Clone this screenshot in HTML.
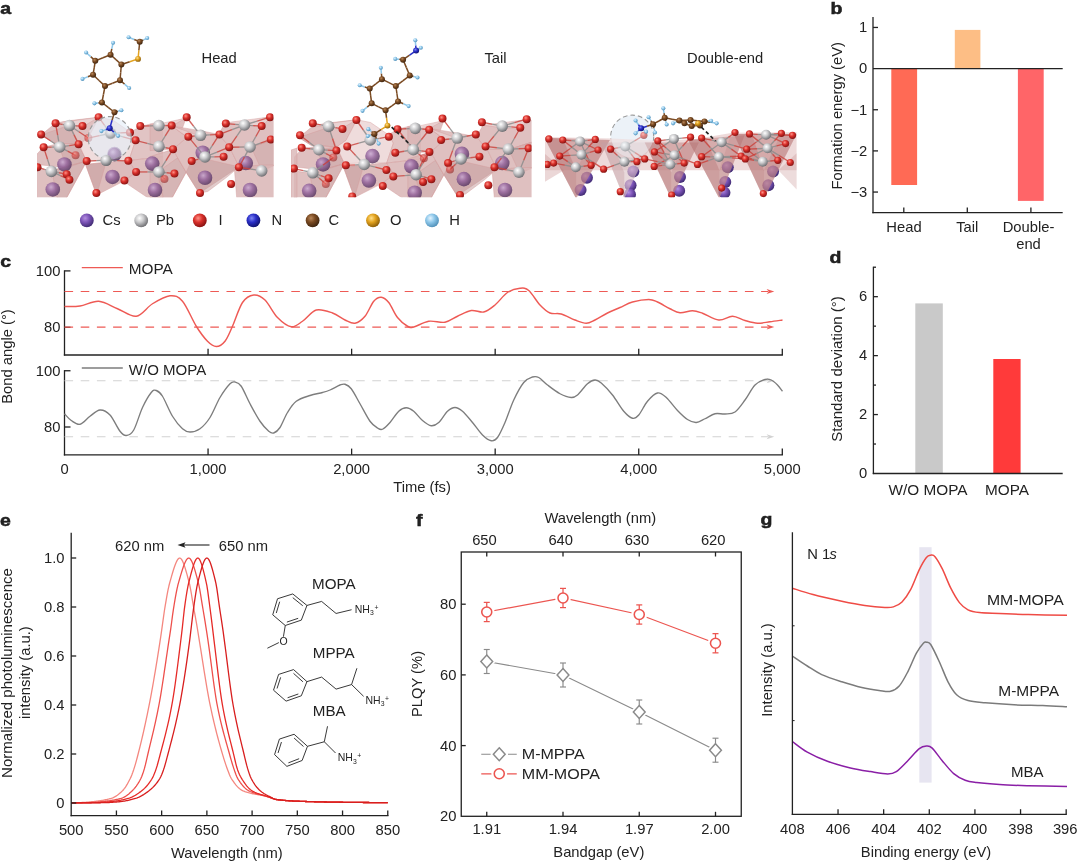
<!DOCTYPE html>
<html><head><meta charset="utf-8"><title>Figure</title>
<style>html,body{margin:0;padding:0;background:#fff;}svg{display:block;will-change:transform;}text{font-family:"Liberation Sans",sans-serif;fill:#222222;}</style></head><body>
<svg width="1080" height="861" viewBox="0 0 1080 861">
<rect width="1080" height="861" fill="#ffffff"/>
<defs>
<radialGradient id="gI" cx="0.38" cy="0.34" r="0.68"><stop offset="0" stop-color="#ff9186"/><stop offset="0.45" stop-color="#d9302b"/><stop offset="1" stop-color="#861211"/></radialGradient>
<radialGradient id="gPb" cx="0.38" cy="0.34" r="0.68"><stop offset="0" stop-color="#ffffff"/><stop offset="0.45" stop-color="#c9c9cb"/><stop offset="1" stop-color="#6e6e72"/></radialGradient>
<radialGradient id="gCs" cx="0.38" cy="0.34" r="0.68"><stop offset="0" stop-color="#c7a6d2"/><stop offset="0.45" stop-color="#8f5e9a"/><stop offset="1" stop-color="#4f2f5c"/></radialGradient>
<radialGradient id="gC" cx="0.38" cy="0.34" r="0.68"><stop offset="0" stop-color="#b8875a"/><stop offset="0.45" stop-color="#7a4a22"/><stop offset="1" stop-color="#3d240f"/></radialGradient>
<radialGradient id="gH" cx="0.38" cy="0.34" r="0.68"><stop offset="0" stop-color="#e4f4ff"/><stop offset="0.45" stop-color="#8fc8ea"/><stop offset="1" stop-color="#4f8fb8"/></radialGradient>
<radialGradient id="gN" cx="0.38" cy="0.34" r="0.68"><stop offset="0" stop-color="#7f86f2"/><stop offset="0.45" stop-color="#2a2fc8"/><stop offset="1" stop-color="#10126e"/></radialGradient>
<radialGradient id="gO" cx="0.38" cy="0.34" r="0.68"><stop offset="0" stop-color="#ffe08a"/><stop offset="0.45" stop-color="#e2a21e"/><stop offset="1" stop-color="#8a5c08"/></radialGradient>
<radialGradient id="gCsL" cx="0.38" cy="0.34" r="0.68"><stop offset="0" stop-color="#b48fe0"/><stop offset="0.45" stop-color="#7d55b8"/><stop offset="1" stop-color="#3f2a72"/></radialGradient>
</defs>
<clipPath id="cl1"><rect x="37" y="100" width="236.5" height="97.3"/></clipPath>
<g clip-path="url(#cl1)">
<path d="M41.11 135L55.56 123.11L70 120.56L98.89 117.22L95.56 124.44L88.33 137.78L78.89 144.44L53.33 142.78Z" fill="#d9b5b5" fill-opacity="0.85" stroke="#d39a9a" stroke-width="0.6" stroke-opacity="0.7"/>
<path d="M55.56 123.11L98.89 117.22L82.78 126.67L70 125Z" fill="#ecd6d6" fill-opacity="0.8" stroke="#d39a9a" stroke-width="0.6" stroke-opacity="0.7"/>
<path d="M41.11 135L70 125L78.89 144.44L53.33 142.78Z" fill="#c49a9a" fill-opacity="0.35" stroke="#d39a9a" stroke-width="0.6" stroke-opacity="0.7"/>
<path d="M36.67 154.44L43.33 147.22L59.44 143.33L78.89 144.44L86.67 161.11L66.67 167.78L36.67 164.44Z" fill="#d9b5b5" fill-opacity="0.85" stroke="#d39a9a" stroke-width="0.6" stroke-opacity="0.7"/>
<path d="M59.44 147.22L78.89 144.44L86.67 161.11L66.67 167.78Z" fill="#c49a9a" fill-opacity="0.4" stroke="#d39a9a" stroke-width="0.6" stroke-opacity="0.7"/>
<path d="M36.67 168.33L51.67 170.56L86.67 161.11L82.78 168.33L66.67 197.78L36.67 197.78Z" fill="#d9b5b5" fill-opacity="0.85" stroke="#d39a9a" stroke-width="0.6" stroke-opacity="0.7"/>
<path d="M51.67 170.56L86.67 161.11L82.78 168.33L66.67 197.78L57.22 197.78Z" fill="#c49a9a" fill-opacity="0.3" stroke="#d39a9a" stroke-width="0.6" stroke-opacity="0.7"/>
<path d="M78.89 144.44L88.33 137.78L98.89 117.22L112.78 120L130.56 132.22L135.56 140.56L128.89 160.56L106.11 160.56L86.67 161.11Z" fill="#ecd6d6" fill-opacity="0.85" stroke="#d39a9a" stroke-width="0.6" stroke-opacity="0.7"/>
<path d="M85.56 164.44L106.11 162.22L128.89 160.56L136.11 172.22L123.89 181.11L96.67 195Z" fill="#d9b5b5" fill-opacity="0.9" stroke="#d39a9a" stroke-width="0.6" stroke-opacity="0.7"/>
<path d="M85.56 164.44L106.11 162.22L96.67 195Z" fill="#c49a9a" fill-opacity="0.45" stroke="#d39a9a" stroke-width="0.6" stroke-opacity="0.7"/>
<path d="M130.56 132.22L140 126.67L155 122.78L162.78 124.44L162.78 156.67L128.89 160.56L135.56 140.56Z" fill="#d9b5b5" fill-opacity="0.8" stroke="#d39a9a" stroke-width="0.6" stroke-opacity="0.7"/>
<path d="M128.89 160.56L162.78 156.67L162.78 197.78L147.78 197.78L128.89 185L123.89 181.11L136.11 172.22Z" fill="#d9b5b5" fill-opacity="0.85" stroke="#d39a9a" stroke-width="0.6" stroke-opacity="0.7"/>
<path d="M150 156.57L172.87 149.35L177.68 157.78L186.11 172.22L172.27 197.5L150 197.5Z" fill="#d9b5b5" fill-opacity="0.85" stroke="#d39a9a" stroke-width="0.6" stroke-opacity="0.7"/>
<path d="M157.22 172.22L177.68 157.78L186.11 172.22L172.27 197.5L163.24 197.5Z" fill="#c49a9a" fill-opacity="0.3" stroke="#d39a9a" stroke-width="0.6" stroke-opacity="0.7"/>
<path d="M150 124.07L159.03 125.88L186.11 118.05L181.3 131.3L187.31 137.31L172.87 149.35L150 150.55Z" fill="#d9b5b5" fill-opacity="0.85" stroke="#d39a9a" stroke-width="0.6" stroke-opacity="0.7"/>
<path d="M150 125.88L186.11 118.05L171.67 125.88Z" fill="#ecd6d6" fill-opacity="0.8" stroke="#d39a9a" stroke-width="0.6" stroke-opacity="0.7"/>
<path d="M171.67 125.88L200.55 130.69L218.61 134.3L229.44 146.94L239.07 166.8L199.35 193.28L186.11 172.22L177.68 157.78L172.87 149.35L187.31 137.31Z" fill="#d9b5b5" fill-opacity="0.85" stroke="#d39a9a" stroke-width="0.6" stroke-opacity="0.7"/>
<path d="M171.67 125.88L200.55 136.11L187.31 137.31Z" fill="#ecd6d6" fill-opacity="0.6" stroke="#d39a9a" stroke-width="0.6" stroke-opacity="0.7"/>
<path d="M191.53 160.78L205.37 158.98L239.07 166.8L227.03 177.03L207.78 191.48L199.35 193.28L186.11 172.22Z" fill="#c49a9a" fill-opacity="0.5" stroke="#d39a9a" stroke-width="0.6" stroke-opacity="0.7"/>
<path d="M218.61 134.3L225.23 122.87L244.49 121.67L270.37 116.85L273.98 118.05L273.98 139.72L251.11 146.94L229.44 146.94Z" fill="#d9b5b5" fill-opacity="0.85" stroke="#d39a9a" stroke-width="0.6" stroke-opacity="0.7"/>
<path d="M225.23 122.87L270.37 116.85L262.54 126.48L244.49 125.28Z" fill="#ecd6d6" fill-opacity="0.8" stroke="#d39a9a" stroke-width="0.6" stroke-opacity="0.7"/>
<path d="M229.44 146.94L251.11 146.94L273.98 139.72L273.98 165.6L261.94 171.02L239.07 166.8Z" fill="#d9b5b5" fill-opacity="0.85" stroke="#d39a9a" stroke-width="0.6" stroke-opacity="0.7"/>
<path d="M251.11 146.94L273.98 139.72L273.98 165.6L261.94 171.02Z" fill="#c49a9a" fill-opacity="0.35" stroke="#d39a9a" stroke-width="0.6" stroke-opacity="0.7"/>
<path d="M234.26 167.4L261.94 165L273.98 165L273.98 197.5L236.66 197.5Z" fill="#d9b5b5" fill-opacity="0.85" stroke="#d39a9a" stroke-width="0.6" stroke-opacity="0.7"/>
<circle cx="64.44" cy="164.44" r="7.3" fill="url(#gCs)" opacity="0.8"/>
<circle cx="52.78" cy="189.44" r="7.3" fill="url(#gCs)" opacity="0.8"/>
<circle cx="114.44" cy="154.17" r="7.3" fill="url(#gCs)" opacity="0.8"/>
<circle cx="112.5" cy="176.94" r="7.3" fill="url(#gCs)" opacity="0.8"/>
<circle cx="152.22" cy="163.61" r="7.3" fill="url(#gCs)" opacity="0.8"/>
<circle cx="155" cy="190" r="7.3" fill="url(#gCs)" opacity="0.8"/>
<circle cx="202.78" cy="152.78" r="7.3" fill="url(#gCs)" opacity="0.8"/>
<circle cx="205" cy="177.78" r="7.3" fill="url(#gCs)" opacity="0.8"/>
<circle cx="245.83" cy="163.06" r="7.3" fill="url(#gCs)" opacity="0.8"/>
<circle cx="250" cy="190" r="7.3" fill="url(#gCs)" opacity="0.8"/>
<line x1="69.44" y1="125.56" x2="62.5" y2="124.44" stroke="#8d8d8d" stroke-width="1.35" opacity="0.85"/>
<line x1="62.5" y1="124.44" x2="55.56" y2="123.33" stroke="#c9403a" stroke-width="1.35" opacity="0.8"/>
<line x1="69.44" y1="125.56" x2="75.97" y2="125.83" stroke="#8d8d8d" stroke-width="1.35" opacity="0.85"/>
<line x1="75.97" y1="125.83" x2="82.5" y2="126.11" stroke="#c9403a" stroke-width="1.35" opacity="0.8"/>
<line x1="69.44" y1="125.56" x2="74.03" y2="134.86" stroke="#8d8d8d" stroke-width="1.35" opacity="0.85"/>
<line x1="74.03" y1="134.86" x2="78.61" y2="144.17" stroke="#c9403a" stroke-width="1.35" opacity="0.8"/>
<line x1="69.44" y1="125.56" x2="78.89" y2="131.81" stroke="#8d8d8d" stroke-width="1.35" opacity="0.85"/>
<line x1="78.89" y1="131.81" x2="88.33" y2="138.06" stroke="#c9403a" stroke-width="1.35" opacity="0.8"/>
<line x1="59.72" y1="146.94" x2="50.42" y2="140.69" stroke="#8d8d8d" stroke-width="1.35" opacity="0.85"/>
<line x1="50.42" y1="140.69" x2="41.11" y2="134.44" stroke="#c9403a" stroke-width="1.35" opacity="0.8"/>
<line x1="59.72" y1="146.94" x2="57.64" y2="135.14" stroke="#8d8d8d" stroke-width="1.35" opacity="0.85"/>
<line x1="57.64" y1="135.14" x2="55.56" y2="123.33" stroke="#c9403a" stroke-width="1.35" opacity="0.8"/>
<line x1="59.72" y1="146.94" x2="51.67" y2="147.08" stroke="#8d8d8d" stroke-width="1.35" opacity="0.85"/>
<line x1="51.67" y1="147.08" x2="43.61" y2="147.22" stroke="#c9403a" stroke-width="1.35" opacity="0.8"/>
<line x1="59.72" y1="146.94" x2="69.17" y2="145.56" stroke="#8d8d8d" stroke-width="1.35" opacity="0.85"/>
<line x1="69.17" y1="145.56" x2="78.61" y2="144.17" stroke="#c9403a" stroke-width="1.35" opacity="0.8"/>
<line x1="59.72" y1="146.94" x2="67.64" y2="151.11" stroke="#8d8d8d" stroke-width="1.35" opacity="0.85"/>
<line x1="67.64" y1="151.11" x2="75.56" y2="155.28" stroke="#c9403a" stroke-width="1.35" opacity="0.8"/>
<line x1="51.39" y1="171.39" x2="47.5" y2="159.31" stroke="#8d8d8d" stroke-width="1.35" opacity="0.85"/>
<line x1="47.5" y1="159.31" x2="43.61" y2="147.22" stroke="#c9403a" stroke-width="1.35" opacity="0.8"/>
<line x1="51.39" y1="171.39" x2="44.44" y2="169.31" stroke="#8d8d8d" stroke-width="1.35" opacity="0.85"/>
<line x1="44.44" y1="169.31" x2="37.5" y2="167.22" stroke="#c9403a" stroke-width="1.35" opacity="0.8"/>
<line x1="51.39" y1="171.39" x2="59.03" y2="172.78" stroke="#8d8d8d" stroke-width="1.35" opacity="0.85"/>
<line x1="59.03" y1="172.78" x2="66.67" y2="174.17" stroke="#c9403a" stroke-width="1.35" opacity="0.8"/>
<line x1="51.39" y1="171.39" x2="60.42" y2="175.56" stroke="#8d8d8d" stroke-width="1.35" opacity="0.85"/>
<line x1="60.42" y1="175.56" x2="69.44" y2="179.72" stroke="#c9403a" stroke-width="1.35" opacity="0.8"/>
<line x1="106.11" y1="160.28" x2="96.39" y2="160.69" stroke="#8d8d8d" stroke-width="1.35" opacity="0.85"/>
<line x1="96.39" y1="160.69" x2="86.67" y2="161.11" stroke="#c9403a" stroke-width="1.35" opacity="0.8"/>
<line x1="106.11" y1="160.28" x2="117.22" y2="160.56" stroke="#8d8d8d" stroke-width="1.35" opacity="0.85"/>
<line x1="117.22" y1="160.56" x2="128.33" y2="160.83" stroke="#c9403a" stroke-width="1.35" opacity="0.8"/>
<line x1="110.56" y1="133.33" x2="104.58" y2="125.28" stroke="#8d8d8d" stroke-width="1.35" opacity="0.85"/>
<line x1="104.58" y1="125.28" x2="98.61" y2="117.22" stroke="#c9403a" stroke-width="1.35" opacity="0.8"/>
<line x1="110.56" y1="133.33" x2="99.44" y2="135.69" stroke="#8d8d8d" stroke-width="1.35" opacity="0.85"/>
<line x1="99.44" y1="135.69" x2="88.33" y2="138.06" stroke="#c9403a" stroke-width="1.35" opacity="0.8"/>
<line x1="110.56" y1="133.33" x2="120.28" y2="132.92" stroke="#8d8d8d" stroke-width="1.35" opacity="0.85"/>
<line x1="120.28" y1="132.92" x2="130" y2="132.5" stroke="#c9403a" stroke-width="1.35" opacity="0.8"/>
<line x1="110.56" y1="133.33" x2="123.06" y2="136.81" stroke="#8d8d8d" stroke-width="1.35" opacity="0.85"/>
<line x1="123.06" y1="136.81" x2="135.56" y2="140.28" stroke="#c9403a" stroke-width="1.35" opacity="0.8"/>
<line x1="158.89" y1="125.56" x2="149.58" y2="125.83" stroke="#8d8d8d" stroke-width="1.35" opacity="0.85"/>
<line x1="149.58" y1="125.83" x2="140.28" y2="126.11" stroke="#c9403a" stroke-width="1.35" opacity="0.8"/>
<line x1="158.89" y1="125.56" x2="165.28" y2="125.56" stroke="#8d8d8d" stroke-width="1.35" opacity="0.85"/>
<line x1="165.28" y1="125.56" x2="171.67" y2="125.56" stroke="#c9403a" stroke-width="1.35" opacity="0.8"/>
<line x1="158.89" y1="146.39" x2="147.22" y2="143.33" stroke="#8d8d8d" stroke-width="1.35" opacity="0.85"/>
<line x1="147.22" y1="143.33" x2="135.56" y2="140.28" stroke="#c9403a" stroke-width="1.35" opacity="0.8"/>
<line x1="158.89" y1="146.39" x2="165.28" y2="135.97" stroke="#8d8d8d" stroke-width="1.35" opacity="0.85"/>
<line x1="165.28" y1="135.97" x2="171.67" y2="125.56" stroke="#c9403a" stroke-width="1.35" opacity="0.8"/>
<line x1="158.89" y1="146.39" x2="165.97" y2="147.78" stroke="#8d8d8d" stroke-width="1.35" opacity="0.85"/>
<line x1="165.97" y1="147.78" x2="173.06" y2="149.17" stroke="#c9403a" stroke-width="1.35" opacity="0.8"/>
<line x1="158.89" y1="171.94" x2="147.5" y2="171.94" stroke="#8d8d8d" stroke-width="1.35" opacity="0.85"/>
<line x1="147.5" y1="171.94" x2="136.11" y2="171.94" stroke="#c9403a" stroke-width="1.35" opacity="0.8"/>
<line x1="158.89" y1="171.94" x2="165.97" y2="160.56" stroke="#8d8d8d" stroke-width="1.35" opacity="0.85"/>
<line x1="165.97" y1="160.56" x2="173.06" y2="149.17" stroke="#c9403a" stroke-width="1.35" opacity="0.8"/>
<line x1="158.89" y1="171.94" x2="166.67" y2="172.78" stroke="#8d8d8d" stroke-width="1.35" opacity="0.85"/>
<line x1="166.67" y1="172.78" x2="174.44" y2="173.61" stroke="#c9403a" stroke-width="1.35" opacity="0.8"/>
<line x1="158.89" y1="171.94" x2="161.67" y2="175.42" stroke="#8d8d8d" stroke-width="1.35" opacity="0.85"/>
<line x1="161.67" y1="175.42" x2="164.44" y2="178.89" stroke="#c9403a" stroke-width="1.35" opacity="0.8"/>
<line x1="200.56" y1="135.28" x2="193.61" y2="126.25" stroke="#8d8d8d" stroke-width="1.35" opacity="0.85"/>
<line x1="193.61" y1="126.25" x2="186.67" y2="117.22" stroke="#c9403a" stroke-width="1.35" opacity="0.8"/>
<line x1="200.56" y1="135.28" x2="194.44" y2="135.97" stroke="#8d8d8d" stroke-width="1.35" opacity="0.85"/>
<line x1="194.44" y1="135.97" x2="188.33" y2="136.67" stroke="#c9403a" stroke-width="1.35" opacity="0.8"/>
<line x1="200.56" y1="135.28" x2="210" y2="134.86" stroke="#8d8d8d" stroke-width="1.35" opacity="0.85"/>
<line x1="210" y1="134.86" x2="219.44" y2="134.44" stroke="#c9403a" stroke-width="1.35" opacity="0.8"/>
<line x1="205" y1="156.94" x2="196.67" y2="146.81" stroke="#8d8d8d" stroke-width="1.35" opacity="0.85"/>
<line x1="196.67" y1="146.81" x2="188.33" y2="136.67" stroke="#c9403a" stroke-width="1.35" opacity="0.8"/>
<line x1="205" y1="156.94" x2="198.33" y2="159.03" stroke="#8d8d8d" stroke-width="1.35" opacity="0.85"/>
<line x1="198.33" y1="159.03" x2="191.67" y2="161.11" stroke="#c9403a" stroke-width="1.35" opacity="0.8"/>
<line x1="205" y1="156.94" x2="212.22" y2="145.69" stroke="#8d8d8d" stroke-width="1.35" opacity="0.85"/>
<line x1="212.22" y1="145.69" x2="219.44" y2="134.44" stroke="#c9403a" stroke-width="1.35" opacity="0.8"/>
<line x1="205" y1="156.94" x2="217.08" y2="152.08" stroke="#8d8d8d" stroke-width="1.35" opacity="0.85"/>
<line x1="217.08" y1="152.08" x2="229.17" y2="147.22" stroke="#c9403a" stroke-width="1.35" opacity="0.8"/>
<line x1="205" y1="156.94" x2="214.31" y2="156.81" stroke="#8d8d8d" stroke-width="1.35" opacity="0.85"/>
<line x1="214.31" y1="156.81" x2="223.61" y2="156.67" stroke="#c9403a" stroke-width="1.35" opacity="0.8"/>
<line x1="244.44" y1="125" x2="231.94" y2="129.72" stroke="#8d8d8d" stroke-width="1.35" opacity="0.85"/>
<line x1="231.94" y1="129.72" x2="219.44" y2="134.44" stroke="#c9403a" stroke-width="1.35" opacity="0.8"/>
<line x1="244.44" y1="125" x2="235.14" y2="124.31" stroke="#8d8d8d" stroke-width="1.35" opacity="0.85"/>
<line x1="235.14" y1="124.31" x2="225.83" y2="123.61" stroke="#c9403a" stroke-width="1.35" opacity="0.8"/>
<line x1="244.44" y1="125" x2="253.06" y2="125.56" stroke="#8d8d8d" stroke-width="1.35" opacity="0.85"/>
<line x1="253.06" y1="125.56" x2="261.67" y2="126.11" stroke="#c9403a" stroke-width="1.35" opacity="0.8"/>
<line x1="244.44" y1="125" x2="257.22" y2="121.11" stroke="#8d8d8d" stroke-width="1.35" opacity="0.85"/>
<line x1="257.22" y1="121.11" x2="270" y2="117.22" stroke="#c9403a" stroke-width="1.35" opacity="0.8"/>
<line x1="244.44" y1="125" x2="236.81" y2="136.11" stroke="#8d8d8d" stroke-width="1.35" opacity="0.85"/>
<line x1="236.81" y1="136.11" x2="229.17" y2="147.22" stroke="#c9403a" stroke-width="1.35" opacity="0.8"/>
<line x1="250" y1="146.94" x2="255.83" y2="136.53" stroke="#8d8d8d" stroke-width="1.35" opacity="0.85"/>
<line x1="255.83" y1="136.53" x2="261.67" y2="126.11" stroke="#c9403a" stroke-width="1.35" opacity="0.8"/>
<line x1="250" y1="146.94" x2="239.58" y2="147.08" stroke="#8d8d8d" stroke-width="1.35" opacity="0.85"/>
<line x1="239.58" y1="147.08" x2="229.17" y2="147.22" stroke="#c9403a" stroke-width="1.35" opacity="0.8"/>
<line x1="250" y1="146.94" x2="244.44" y2="157.08" stroke="#8d8d8d" stroke-width="1.35" opacity="0.85"/>
<line x1="244.44" y1="157.08" x2="238.89" y2="167.22" stroke="#c9403a" stroke-width="1.35" opacity="0.8"/>
<line x1="250" y1="146.94" x2="260.42" y2="143.19" stroke="#8d8d8d" stroke-width="1.35" opacity="0.85"/>
<line x1="260.42" y1="143.19" x2="270.83" y2="139.44" stroke="#c9403a" stroke-width="1.35" opacity="0.8"/>
<line x1="261.67" y1="170.83" x2="250.28" y2="169.03" stroke="#8d8d8d" stroke-width="1.35" opacity="0.85"/>
<line x1="250.28" y1="169.03" x2="238.89" y2="167.22" stroke="#c9403a" stroke-width="1.35" opacity="0.8"/>
<circle cx="98.61" cy="117.22" r="4" fill="url(#gI)"/>
<circle cx="186.67" cy="117.22" r="4" fill="url(#gI)"/>
<circle cx="270" cy="117.22" r="4" fill="url(#gI)"/>
<circle cx="55.56" cy="123.33" r="4" fill="url(#gI)"/>
<circle cx="225.83" cy="123.61" r="4" fill="url(#gI)"/>
<circle cx="244.44" cy="125" r="5.8" fill="url(#gPb)"/>
<circle cx="171.67" cy="125.56" r="4" fill="url(#gI)"/>
<circle cx="69.44" cy="125.56" r="5.8" fill="url(#gPb)"/>
<circle cx="158.89" cy="125.56" r="5.8" fill="url(#gPb)"/>
<circle cx="82.5" cy="126.11" r="4" fill="url(#gI)"/>
<circle cx="140.28" cy="126.11" r="4" fill="url(#gI)"/>
<circle cx="261.67" cy="126.11" r="4" fill="url(#gI)"/>
<circle cx="130" cy="132.5" r="4" fill="url(#gI)"/>
<circle cx="110.56" cy="133.33" r="5.8" fill="url(#gPb)"/>
<circle cx="41.11" cy="134.44" r="4" fill="url(#gI)"/>
<circle cx="219.44" cy="134.44" r="4" fill="url(#gI)"/>
<circle cx="200.56" cy="135.28" r="5.8" fill="url(#gPb)"/>
<circle cx="188.33" cy="136.67" r="4" fill="url(#gI)"/>
<circle cx="88.33" cy="138.06" r="4" fill="url(#gI)" opacity="0.55"/>
<circle cx="270.83" cy="139.44" r="4" fill="url(#gI)"/>
<circle cx="135.56" cy="140.28" r="4" fill="url(#gI)"/>
<circle cx="78.61" cy="144.17" r="4" fill="url(#gI)"/>
<circle cx="158.89" cy="146.39" r="5.8" fill="url(#gPb)"/>
<circle cx="59.72" cy="146.94" r="5.8" fill="url(#gPb)"/>
<circle cx="250" cy="146.94" r="5.8" fill="url(#gPb)"/>
<circle cx="43.61" cy="147.22" r="4" fill="url(#gI)"/>
<circle cx="229.17" cy="147.22" r="4" fill="url(#gI)"/>
<circle cx="173.06" cy="149.17" r="4" fill="url(#gI)"/>
<circle cx="75.56" cy="155.28" r="4" fill="url(#gI)" opacity="0.55"/>
<circle cx="223.61" cy="156.67" r="4" fill="url(#gI)"/>
<circle cx="205" cy="156.94" r="5.8" fill="url(#gPb)"/>
<circle cx="106.11" cy="160.28" r="5.8" fill="url(#gPb)"/>
<circle cx="128.33" cy="160.83" r="4" fill="url(#gI)"/>
<circle cx="86.67" cy="161.11" r="4" fill="url(#gI)"/>
<circle cx="191.67" cy="161.11" r="4" fill="url(#gI)"/>
<circle cx="37.5" cy="167.22" r="4" fill="url(#gI)"/>
<circle cx="238.89" cy="167.22" r="4" fill="url(#gI)"/>
<circle cx="261.67" cy="170.83" r="5.8" fill="url(#gPb)"/>
<circle cx="51.39" cy="171.39" r="5.8" fill="url(#gPb)"/>
<circle cx="136.11" cy="171.94" r="4" fill="url(#gI)"/>
<circle cx="158.89" cy="171.94" r="5.8" fill="url(#gPb)"/>
<circle cx="174.44" cy="173.61" r="4" fill="url(#gI)"/>
<circle cx="66.67" cy="174.17" r="4" fill="url(#gI)"/>
<circle cx="164.44" cy="178.89" r="4" fill="url(#gI)" opacity="0.55"/>
<circle cx="69.44" cy="179.72" r="4" fill="url(#gI)"/>
<circle cx="124.44" cy="180.56" r="4" fill="url(#gI)"/>
<circle cx="231.11" cy="183.89" r="4" fill="url(#gI)"/>
<circle cx="96.39" cy="193.06" r="4" fill="url(#gI)"/>
<circle cx="200" cy="193.06" r="4" fill="url(#gI)"/>
</g>
<clipPath id="cl2"><rect x="291" y="100" width="240.5" height="97.3"/></clipPath>
<g clip-path="url(#cl2)">
<path d="M298.91 137.5L313.36 125.61L327.8 123.06L356.69 119.72L353.36 126.94L346.13 140.28L336.69 146.94L311.13 145.28Z" fill="#d9b5b5" fill-opacity="0.85" stroke="#d39a9a" stroke-width="0.6" stroke-opacity="0.7"/>
<path d="M313.36 125.61L356.69 119.72L340.58 129.17L327.8 127.5Z" fill="#ecd6d6" fill-opacity="0.8" stroke="#d39a9a" stroke-width="0.6" stroke-opacity="0.7"/>
<path d="M298.91 137.5L327.8 127.5L336.69 146.94L311.13 145.28Z" fill="#c49a9a" fill-opacity="0.35" stroke="#d39a9a" stroke-width="0.6" stroke-opacity="0.7"/>
<path d="M294.47 156.94L301.13 149.72L317.24 145.83L336.69 146.94L344.47 163.61L324.47 170.28L294.47 166.94Z" fill="#d9b5b5" fill-opacity="0.85" stroke="#d39a9a" stroke-width="0.6" stroke-opacity="0.7"/>
<path d="M317.24 149.72L336.69 146.94L344.47 163.61L324.47 170.28Z" fill="#c49a9a" fill-opacity="0.4" stroke="#d39a9a" stroke-width="0.6" stroke-opacity="0.7"/>
<path d="M294.47 170.83L309.47 173.06L344.47 163.61L340.58 170.83L324.47 200.28L294.47 200.28Z" fill="#d9b5b5" fill-opacity="0.85" stroke="#d39a9a" stroke-width="0.6" stroke-opacity="0.7"/>
<path d="M309.47 173.06L344.47 163.61L340.58 170.83L324.47 200.28L315.02 200.28Z" fill="#c49a9a" fill-opacity="0.3" stroke="#d39a9a" stroke-width="0.6" stroke-opacity="0.7"/>
<path d="M336.69 146.94L346.13 140.28L356.69 119.72L370.58 122.5L388.36 134.72L393.36 143.06L386.69 163.06L363.91 163.06L344.47 163.61Z" fill="#ecd6d6" fill-opacity="0.85" stroke="#d39a9a" stroke-width="0.6" stroke-opacity="0.7"/>
<path d="M343.36 166.94L363.91 164.72L386.69 163.06L393.91 174.72L381.69 183.61L354.47 197.5Z" fill="#d9b5b5" fill-opacity="0.9" stroke="#d39a9a" stroke-width="0.6" stroke-opacity="0.7"/>
<path d="M343.36 166.94L363.91 164.72L354.47 197.5Z" fill="#c49a9a" fill-opacity="0.45" stroke="#d39a9a" stroke-width="0.6" stroke-opacity="0.7"/>
<path d="M388.36 134.72L397.8 129.17L412.8 125.28L420.58 126.94L420.58 159.17L386.69 163.06L393.36 143.06Z" fill="#d9b5b5" fill-opacity="0.8" stroke="#d39a9a" stroke-width="0.6" stroke-opacity="0.7"/>
<path d="M386.69 163.06L420.58 159.17L420.58 200.28L405.58 200.28L386.69 187.5L381.69 183.61L393.91 174.72Z" fill="#d9b5b5" fill-opacity="0.85" stroke="#d39a9a" stroke-width="0.6" stroke-opacity="0.7"/>
<path d="M407.8 159.07L430.67 151.85L435.48 160.28L443.91 174.72L430.07 200L407.8 200Z" fill="#d9b5b5" fill-opacity="0.85" stroke="#d39a9a" stroke-width="0.6" stroke-opacity="0.7"/>
<path d="M415.02 174.72L435.48 160.28L443.91 174.72L430.07 200L421.04 200Z" fill="#c49a9a" fill-opacity="0.3" stroke="#d39a9a" stroke-width="0.6" stroke-opacity="0.7"/>
<path d="M407.8 126.57L416.83 128.38L443.91 120.55L439.1 133.8L445.11 139.81L430.67 151.85L407.8 153.05Z" fill="#d9b5b5" fill-opacity="0.85" stroke="#d39a9a" stroke-width="0.6" stroke-opacity="0.7"/>
<path d="M407.8 128.38L443.91 120.55L429.47 128.38Z" fill="#ecd6d6" fill-opacity="0.8" stroke="#d39a9a" stroke-width="0.6" stroke-opacity="0.7"/>
<path d="M429.47 128.38L458.35 133.19L476.41 136.8L487.24 149.44L496.87 169.3L457.15 195.78L443.91 174.72L435.48 160.28L430.67 151.85L445.11 139.81Z" fill="#d9b5b5" fill-opacity="0.85" stroke="#d39a9a" stroke-width="0.6" stroke-opacity="0.7"/>
<path d="M429.47 128.38L458.35 138.61L445.11 139.81Z" fill="#ecd6d6" fill-opacity="0.6" stroke="#d39a9a" stroke-width="0.6" stroke-opacity="0.7"/>
<path d="M449.33 163.28L463.17 161.48L496.87 169.3L484.83 179.53L465.58 193.98L457.15 195.78L443.91 174.72Z" fill="#c49a9a" fill-opacity="0.5" stroke="#d39a9a" stroke-width="0.6" stroke-opacity="0.7"/>
<path d="M476.41 136.8L483.03 125.37L502.29 124.17L528.17 119.35L531.78 120.55L531.78 142.22L508.91 149.44L487.24 149.44Z" fill="#d9b5b5" fill-opacity="0.85" stroke="#d39a9a" stroke-width="0.6" stroke-opacity="0.7"/>
<path d="M483.03 125.37L528.17 119.35L520.34 128.98L502.29 127.78Z" fill="#ecd6d6" fill-opacity="0.8" stroke="#d39a9a" stroke-width="0.6" stroke-opacity="0.7"/>
<path d="M487.24 149.44L508.91 149.44L531.78 142.22L531.78 168.1L519.74 173.52L496.87 169.3Z" fill="#d9b5b5" fill-opacity="0.85" stroke="#d39a9a" stroke-width="0.6" stroke-opacity="0.7"/>
<path d="M508.91 149.44L531.78 142.22L531.78 168.1L519.74 173.52Z" fill="#c49a9a" fill-opacity="0.35" stroke="#d39a9a" stroke-width="0.6" stroke-opacity="0.7"/>
<path d="M492.06 169.9L519.74 167.5L531.78 167.5L531.78 200L494.46 200Z" fill="#d9b5b5" fill-opacity="0.85" stroke="#d39a9a" stroke-width="0.6" stroke-opacity="0.7"/>
<path d="M291 150L297 148L297 198L291 198Z" fill="#d9b5b5" fill-opacity="0.8" stroke="#d39a9a" stroke-width="0.6" stroke-opacity="0.7"/>
<circle cx="323.06" cy="164.44" r="7.3" fill="url(#gCs)" opacity="0.8"/>
<circle cx="309.17" cy="190.83" r="7.3" fill="url(#gCs)" opacity="0.8"/>
<circle cx="372.5" cy="156.11" r="7.3" fill="url(#gCs)" opacity="0.8"/>
<circle cx="368.89" cy="180.56" r="7.3" fill="url(#gCs)" opacity="0.8"/>
<circle cx="411.39" cy="166.39" r="7.3" fill="url(#gCs)" opacity="0.8"/>
<circle cx="414.72" cy="192.78" r="7.3" fill="url(#gCs)" opacity="0.8"/>
<circle cx="461.94" cy="153.89" r="7.3" fill="url(#gCs)" opacity="0.8"/>
<circle cx="463.89" cy="179.17" r="7.3" fill="url(#gCs)" opacity="0.8"/>
<circle cx="502.22" cy="163.06" r="7.3" fill="url(#gCs)" opacity="0.8"/>
<circle cx="505" cy="190" r="7.3" fill="url(#gCs)" opacity="0.8"/>
<line x1="328.61" y1="126.39" x2="320.69" y2="124.86" stroke="#8d8d8d" stroke-width="1.35" opacity="0.85"/>
<line x1="320.69" y1="124.86" x2="312.78" y2="123.33" stroke="#c9403a" stroke-width="1.35" opacity="0.8"/>
<line x1="328.61" y1="126.39" x2="335.56" y2="127.64" stroke="#8d8d8d" stroke-width="1.35" opacity="0.85"/>
<line x1="335.56" y1="127.64" x2="342.5" y2="128.89" stroke="#c9403a" stroke-width="1.35" opacity="0.8"/>
<line x1="328.61" y1="126.39" x2="332.5" y2="138.47" stroke="#8d8d8d" stroke-width="1.35" opacity="0.85"/>
<line x1="332.5" y1="138.47" x2="336.39" y2="150.56" stroke="#c9403a" stroke-width="1.35" opacity="0.8"/>
<line x1="318.89" y1="149.72" x2="309.44" y2="142.5" stroke="#8d8d8d" stroke-width="1.35" opacity="0.85"/>
<line x1="309.44" y1="142.5" x2="300" y2="135.28" stroke="#c9403a" stroke-width="1.35" opacity="0.8"/>
<line x1="318.89" y1="149.72" x2="310.28" y2="148.75" stroke="#8d8d8d" stroke-width="1.35" opacity="0.85"/>
<line x1="310.28" y1="148.75" x2="301.67" y2="147.78" stroke="#c9403a" stroke-width="1.35" opacity="0.8"/>
<line x1="318.89" y1="149.72" x2="327.64" y2="150.14" stroke="#8d8d8d" stroke-width="1.35" opacity="0.85"/>
<line x1="327.64" y1="150.14" x2="336.39" y2="150.56" stroke="#c9403a" stroke-width="1.35" opacity="0.8"/>
<line x1="318.89" y1="149.72" x2="326.11" y2="153.61" stroke="#8d8d8d" stroke-width="1.35" opacity="0.85"/>
<line x1="326.11" y1="153.61" x2="333.33" y2="157.5" stroke="#c9403a" stroke-width="1.35" opacity="0.8"/>
<line x1="312.78" y1="172.78" x2="323.06" y2="165.14" stroke="#8d8d8d" stroke-width="1.35" opacity="0.85"/>
<line x1="323.06" y1="165.14" x2="333.33" y2="157.5" stroke="#c9403a" stroke-width="1.35" opacity="0.8"/>
<line x1="312.78" y1="172.78" x2="303.33" y2="170.69" stroke="#8d8d8d" stroke-width="1.35" opacity="0.85"/>
<line x1="303.33" y1="170.69" x2="293.89" y2="168.61" stroke="#c9403a" stroke-width="1.35" opacity="0.8"/>
<line x1="312.78" y1="172.78" x2="320.69" y2="175.56" stroke="#8d8d8d" stroke-width="1.35" opacity="0.85"/>
<line x1="320.69" y1="175.56" x2="328.61" y2="178.33" stroke="#c9403a" stroke-width="1.35" opacity="0.8"/>
<line x1="312.78" y1="172.78" x2="319.31" y2="178.33" stroke="#8d8d8d" stroke-width="1.35" opacity="0.85"/>
<line x1="319.31" y1="178.33" x2="325.83" y2="183.89" stroke="#c9403a" stroke-width="1.35" opacity="0.8"/>
<line x1="370.28" y1="140" x2="363.33" y2="130" stroke="#8d8d8d" stroke-width="1.35" opacity="0.85"/>
<line x1="363.33" y1="130" x2="356.39" y2="120" stroke="#c9403a" stroke-width="1.35" opacity="0.8"/>
<line x1="370.28" y1="140" x2="358.75" y2="143.19" stroke="#8d8d8d" stroke-width="1.35" opacity="0.85"/>
<line x1="358.75" y1="143.19" x2="347.22" y2="146.39" stroke="#c9403a" stroke-width="1.35" opacity="0.8"/>
<line x1="370.28" y1="140" x2="379.58" y2="138.33" stroke="#8d8d8d" stroke-width="1.35" opacity="0.85"/>
<line x1="379.58" y1="138.33" x2="388.89" y2="136.67" stroke="#c9403a" stroke-width="1.35" opacity="0.8"/>
<line x1="364.17" y1="164.44" x2="355.69" y2="155.42" stroke="#8d8d8d" stroke-width="1.35" opacity="0.85"/>
<line x1="355.69" y1="155.42" x2="347.22" y2="146.39" stroke="#c9403a" stroke-width="1.35" opacity="0.8"/>
<line x1="364.17" y1="164.44" x2="355" y2="164.86" stroke="#8d8d8d" stroke-width="1.35" opacity="0.85"/>
<line x1="355" y1="164.86" x2="345.83" y2="165.28" stroke="#c9403a" stroke-width="1.35" opacity="0.8"/>
<line x1="364.17" y1="164.44" x2="375.28" y2="167.22" stroke="#8d8d8d" stroke-width="1.35" opacity="0.85"/>
<line x1="375.28" y1="167.22" x2="386.39" y2="170" stroke="#c9403a" stroke-width="1.35" opacity="0.8"/>
<line x1="415.28" y1="128.33" x2="406.39" y2="128.75" stroke="#8d8d8d" stroke-width="1.35" opacity="0.85"/>
<line x1="406.39" y1="128.75" x2="397.5" y2="129.17" stroke="#c9403a" stroke-width="1.35" opacity="0.8"/>
<line x1="415.28" y1="128.33" x2="422.22" y2="129.03" stroke="#8d8d8d" stroke-width="1.35" opacity="0.85"/>
<line x1="422.22" y1="129.03" x2="429.17" y2="129.72" stroke="#c9403a" stroke-width="1.35" opacity="0.8"/>
<line x1="413.33" y1="149.72" x2="404.31" y2="151.25" stroke="#8d8d8d" stroke-width="1.35" opacity="0.85"/>
<line x1="404.31" y1="151.25" x2="395.28" y2="152.78" stroke="#c9403a" stroke-width="1.35" opacity="0.8"/>
<line x1="413.33" y1="149.72" x2="405.42" y2="139.44" stroke="#8d8d8d" stroke-width="1.35" opacity="0.85"/>
<line x1="405.42" y1="139.44" x2="397.5" y2="129.17" stroke="#c9403a" stroke-width="1.35" opacity="0.8"/>
<line x1="413.33" y1="149.72" x2="421.25" y2="139.72" stroke="#8d8d8d" stroke-width="1.35" opacity="0.85"/>
<line x1="421.25" y1="139.72" x2="429.17" y2="129.72" stroke="#c9403a" stroke-width="1.35" opacity="0.8"/>
<line x1="413.33" y1="149.72" x2="421.39" y2="150.83" stroke="#8d8d8d" stroke-width="1.35" opacity="0.85"/>
<line x1="421.39" y1="150.83" x2="429.44" y2="151.94" stroke="#c9403a" stroke-width="1.35" opacity="0.8"/>
<line x1="413.33" y1="149.72" x2="418.61" y2="154.03" stroke="#8d8d8d" stroke-width="1.35" opacity="0.85"/>
<line x1="418.61" y1="154.03" x2="423.89" y2="158.33" stroke="#c9403a" stroke-width="1.35" opacity="0.8"/>
<line x1="416.11" y1="174.72" x2="404.72" y2="175.56" stroke="#8d8d8d" stroke-width="1.35" opacity="0.85"/>
<line x1="404.72" y1="175.56" x2="393.33" y2="176.39" stroke="#c9403a" stroke-width="1.35" opacity="0.8"/>
<line x1="416.11" y1="174.72" x2="422.78" y2="163.33" stroke="#8d8d8d" stroke-width="1.35" opacity="0.85"/>
<line x1="422.78" y1="163.33" x2="429.44" y2="151.94" stroke="#c9403a" stroke-width="1.35" opacity="0.8"/>
<line x1="416.11" y1="174.72" x2="420" y2="166.53" stroke="#8d8d8d" stroke-width="1.35" opacity="0.85"/>
<line x1="420" y1="166.53" x2="423.89" y2="158.33" stroke="#c9403a" stroke-width="1.35" opacity="0.8"/>
<line x1="416.11" y1="174.72" x2="423.75" y2="176.94" stroke="#8d8d8d" stroke-width="1.35" opacity="0.85"/>
<line x1="423.75" y1="176.94" x2="431.39" y2="179.17" stroke="#c9403a" stroke-width="1.35" opacity="0.8"/>
<line x1="416.11" y1="174.72" x2="419.58" y2="178.33" stroke="#8d8d8d" stroke-width="1.35" opacity="0.85"/>
<line x1="419.58" y1="178.33" x2="423.06" y2="181.94" stroke="#c9403a" stroke-width="1.35" opacity="0.8"/>
<line x1="457.22" y1="138.06" x2="449.86" y2="128.33" stroke="#8d8d8d" stroke-width="1.35" opacity="0.85"/>
<line x1="449.86" y1="128.33" x2="442.5" y2="118.61" stroke="#c9403a" stroke-width="1.35" opacity="0.8"/>
<line x1="457.22" y1="138.06" x2="449.17" y2="139.03" stroke="#8d8d8d" stroke-width="1.35" opacity="0.85"/>
<line x1="449.17" y1="139.03" x2="441.11" y2="140" stroke="#c9403a" stroke-width="1.35" opacity="0.8"/>
<line x1="457.22" y1="138.06" x2="452.64" y2="150.56" stroke="#8d8d8d" stroke-width="1.35" opacity="0.85"/>
<line x1="452.64" y1="150.56" x2="448.06" y2="163.06" stroke="#c9403a" stroke-width="1.35" opacity="0.8"/>
<line x1="457.22" y1="138.06" x2="466.53" y2="136.25" stroke="#8d8d8d" stroke-width="1.35" opacity="0.85"/>
<line x1="466.53" y1="136.25" x2="475.83" y2="134.44" stroke="#c9403a" stroke-width="1.35" opacity="0.8"/>
<line x1="461.11" y1="158.89" x2="454.58" y2="160.97" stroke="#8d8d8d" stroke-width="1.35" opacity="0.85"/>
<line x1="454.58" y1="160.97" x2="448.06" y2="163.06" stroke="#c9403a" stroke-width="1.35" opacity="0.8"/>
<line x1="461.11" y1="158.89" x2="455.56" y2="164.17" stroke="#8d8d8d" stroke-width="1.35" opacity="0.85"/>
<line x1="455.56" y1="164.17" x2="450" y2="169.44" stroke="#c9403a" stroke-width="1.35" opacity="0.8"/>
<line x1="461.11" y1="158.89" x2="470.28" y2="157.78" stroke="#8d8d8d" stroke-width="1.35" opacity="0.85"/>
<line x1="470.28" y1="157.78" x2="479.44" y2="156.67" stroke="#c9403a" stroke-width="1.35" opacity="0.8"/>
<line x1="502.22" y1="126.11" x2="492.08" y2="124.17" stroke="#8d8d8d" stroke-width="1.35" opacity="0.85"/>
<line x1="492.08" y1="124.17" x2="481.94" y2="122.22" stroke="#c9403a" stroke-width="1.35" opacity="0.8"/>
<line x1="502.22" y1="126.11" x2="511.25" y2="126.94" stroke="#8d8d8d" stroke-width="1.35" opacity="0.85"/>
<line x1="511.25" y1="126.94" x2="520.28" y2="127.78" stroke="#c9403a" stroke-width="1.35" opacity="0.8"/>
<line x1="502.22" y1="126.11" x2="514.44" y2="122.64" stroke="#8d8d8d" stroke-width="1.35" opacity="0.85"/>
<line x1="514.44" y1="122.64" x2="526.67" y2="119.17" stroke="#c9403a" stroke-width="1.35" opacity="0.8"/>
<line x1="502.22" y1="126.11" x2="493.89" y2="136.25" stroke="#8d8d8d" stroke-width="1.35" opacity="0.85"/>
<line x1="493.89" y1="136.25" x2="485.56" y2="146.39" stroke="#c9403a" stroke-width="1.35" opacity="0.8"/>
<line x1="508.33" y1="149.17" x2="514.31" y2="138.47" stroke="#8d8d8d" stroke-width="1.35" opacity="0.85"/>
<line x1="514.31" y1="138.47" x2="520.28" y2="127.78" stroke="#c9403a" stroke-width="1.35" opacity="0.8"/>
<line x1="508.33" y1="149.17" x2="496.94" y2="147.78" stroke="#8d8d8d" stroke-width="1.35" opacity="0.85"/>
<line x1="496.94" y1="147.78" x2="485.56" y2="146.39" stroke="#c9403a" stroke-width="1.35" opacity="0.8"/>
<line x1="508.33" y1="149.17" x2="501.39" y2="158.19" stroke="#8d8d8d" stroke-width="1.35" opacity="0.85"/>
<line x1="501.39" y1="158.19" x2="494.44" y2="167.22" stroke="#c9403a" stroke-width="1.35" opacity="0.8"/>
<line x1="508.33" y1="149.17" x2="518.47" y2="148.75" stroke="#8d8d8d" stroke-width="1.35" opacity="0.85"/>
<line x1="518.47" y1="148.75" x2="528.61" y2="148.33" stroke="#c9403a" stroke-width="1.35" opacity="0.8"/>
<line x1="518.89" y1="172.22" x2="506.67" y2="169.72" stroke="#8d8d8d" stroke-width="1.35" opacity="0.85"/>
<line x1="506.67" y1="169.72" x2="494.44" y2="167.22" stroke="#c9403a" stroke-width="1.35" opacity="0.8"/>
<line x1="518.89" y1="172.22" x2="523.75" y2="160.28" stroke="#8d8d8d" stroke-width="1.35" opacity="0.85"/>
<line x1="523.75" y1="160.28" x2="528.61" y2="148.33" stroke="#c9403a" stroke-width="1.35" opacity="0.8"/>
<circle cx="442.5" cy="118.61" r="4" fill="url(#gI)"/>
<circle cx="526.67" cy="119.17" r="4" fill="url(#gI)"/>
<circle cx="356.39" cy="120" r="4" fill="url(#gI)"/>
<circle cx="481.94" cy="122.22" r="4" fill="url(#gI)"/>
<circle cx="312.78" cy="123.33" r="4" fill="url(#gI)"/>
<circle cx="502.22" cy="126.11" r="5.8" fill="url(#gPb)"/>
<circle cx="328.61" cy="126.39" r="5.8" fill="url(#gPb)"/>
<circle cx="520.28" cy="127.78" r="4" fill="url(#gI)"/>
<circle cx="415.28" cy="128.33" r="5.8" fill="url(#gPb)"/>
<circle cx="342.5" cy="128.89" r="4" fill="url(#gI)"/>
<circle cx="397.5" cy="129.17" r="4" fill="url(#gI)"/>
<circle cx="429.17" cy="129.72" r="4" fill="url(#gI)"/>
<circle cx="475.83" cy="134.44" r="4" fill="url(#gI)"/>
<circle cx="300" cy="135.28" r="4" fill="url(#gI)"/>
<circle cx="388.89" cy="136.67" r="4" fill="url(#gI)"/>
<circle cx="457.22" cy="138.06" r="5.8" fill="url(#gPb)"/>
<circle cx="441.11" cy="140" r="4" fill="url(#gI)"/>
<circle cx="370.28" cy="140" r="5.8" fill="url(#gPb)"/>
<circle cx="347.22" cy="146.39" r="4" fill="url(#gI)"/>
<circle cx="485.56" cy="146.39" r="4" fill="url(#gI)"/>
<circle cx="301.67" cy="147.78" r="4" fill="url(#gI)"/>
<circle cx="528.61" cy="148.33" r="4" fill="url(#gI)"/>
<circle cx="508.33" cy="149.17" r="5.8" fill="url(#gPb)"/>
<circle cx="318.89" cy="149.72" r="5.8" fill="url(#gPb)"/>
<circle cx="413.33" cy="149.72" r="5.8" fill="url(#gPb)"/>
<circle cx="336.39" cy="150.56" r="4" fill="url(#gI)"/>
<circle cx="429.44" cy="151.94" r="4" fill="url(#gI)"/>
<circle cx="395.28" cy="152.78" r="4" fill="url(#gI)"/>
<circle cx="479.44" cy="156.67" r="4" fill="url(#gI)"/>
<circle cx="333.33" cy="157.5" r="4" fill="url(#gI)" opacity="0.55"/>
<circle cx="423.89" cy="158.33" r="4" fill="url(#gI)" opacity="0.55"/>
<circle cx="461.11" cy="158.89" r="5.8" fill="url(#gPb)"/>
<circle cx="448.06" cy="163.06" r="4" fill="url(#gI)"/>
<circle cx="364.17" cy="164.44" r="5.8" fill="url(#gPb)"/>
<circle cx="345.83" cy="165.28" r="4" fill="url(#gI)"/>
<circle cx="494.44" cy="167.22" r="4" fill="url(#gI)"/>
<circle cx="293.89" cy="168.61" r="4" fill="url(#gI)"/>
<circle cx="450" cy="169.44" r="4" fill="url(#gI)" opacity="0.55"/>
<circle cx="386.39" cy="170" r="4" fill="url(#gI)"/>
<circle cx="518.89" cy="172.22" r="5.8" fill="url(#gPb)"/>
<circle cx="312.78" cy="172.78" r="5.8" fill="url(#gPb)"/>
<circle cx="416.11" cy="174.72" r="5.8" fill="url(#gPb)"/>
<circle cx="393.33" cy="176.39" r="4" fill="url(#gI)"/>
<circle cx="328.61" cy="178.33" r="4" fill="url(#gI)"/>
<circle cx="431.39" cy="179.17" r="4" fill="url(#gI)"/>
<circle cx="423.06" cy="181.94" r="4" fill="url(#gI)"/>
<circle cx="325.83" cy="183.89" r="4" fill="url(#gI)" opacity="0.55"/>
<circle cx="488.33" cy="185.28" r="4" fill="url(#gI)"/>
<circle cx="382.78" cy="186.11" r="4" fill="url(#gI)"/>
<circle cx="460" cy="195" r="4" fill="url(#gI)"/>
<circle cx="352.22" cy="196.39" r="4" fill="url(#gI)"/>
</g>
<circle cx="632.22" cy="136.67" r="21.5" fill="#e3edf7" fill-opacity="0.75" stroke="#9a9a9a" stroke-width="1.15" stroke-dasharray="4.6 3"/>
<clipPath id="cl3"><rect x="545" y="100" width="252.5" height="97.3"/></clipPath>
<g clip-path="url(#cl3)">
<path d="M544.33 136.96L612.22 138.41L655.55 140.81L694.07 139.37L732.59 132.87L796.62 132.15L796.62 170.18L544.33 170.18Z" fill="#ecd6d6" fill-opacity="0.9"/>
<circle cx="586.94" cy="177.78" r="6" fill="url(#gCsL)"/>
<circle cx="580.56" cy="190" r="6" fill="url(#gCsL)"/>
<circle cx="633.33" cy="171.39" r="6" fill="url(#gCsL)"/>
<circle cx="630.56" cy="185.28" r="6" fill="url(#gCsL)"/>
<circle cx="630" cy="194.44" r="6" fill="url(#gCsL)"/>
<circle cx="680" cy="176.94" r="6" fill="url(#gCsL)"/>
<circle cx="679.17" cy="190.83" r="6" fill="url(#gCsL)"/>
<circle cx="727.78" cy="167.22" r="6" fill="url(#gCsL)"/>
<circle cx="725.28" cy="181.94" r="6" fill="url(#gCsL)"/>
<circle cx="724.44" cy="192.78" r="6" fill="url(#gCsL)"/>
<circle cx="773.06" cy="171.39" r="6" fill="url(#gCsL)"/>
<circle cx="768.33" cy="185.28" r="6" fill="url(#gCsL)"/>
<path d="M544.33 137.68L609.81 140.09L576.11 198.59Z" fill="#c58c8c" fill-opacity="0.62"/>
<path d="M601.39 142.5L651.94 142.5L624.26 198.59Z" fill="#d9bfc3" fill-opacity="0.6"/>
<path d="M644.72 142.5L698.88 142.5L671.2 198.59Z" fill="#c58c8c" fill-opacity="0.58"/>
<path d="M688.05 140.09L744.62 135.28L719.35 198.59Z" fill="#c58c8c" fill-opacity="0.58"/>
<path d="M733.79 134.07L796.62 134.07L763.88 198.59Z" fill="#c58c8c" fill-opacity="0.62"/>
<path d="M544.33 153.33L564.07 170.18L544.33 182.22Z" fill="#c58c8c" fill-opacity="0.35"/>
<path d="M796.62 153.33L778.32 170.18L796.62 189.44Z" fill="#c58c8c" fill-opacity="0.3"/>
<path d="M544.33 137.68L562.87 138.41L576.11 170.18L576.11 198.59Z" fill="#b27272" fill-opacity="0.42"/>
<path d="M609.81 140.09L591.76 140.09L576.11 170.18L576.11 198.59Z" fill="#b27272" fill-opacity="0.22"/>
<path d="M601.39 142.5L612.22 142.5L624.26 172.59L624.26 198.59Z" fill="#b88a90" fill-opacity="0.3"/>
<path d="M644.72 142.5L660.37 142.5L671.2 172.59L671.2 198.59Z" fill="#b27272" fill-opacity="0.38"/>
<path d="M698.88 142.5L684.44 142.5L671.2 172.59L671.2 198.59Z" fill="#b27272" fill-opacity="0.2"/>
<path d="M688.05 140.09L706.1 138.89L719.35 170.18L719.35 198.59Z" fill="#b27272" fill-opacity="0.38"/>
<path d="M744.62 135.28L730.18 136.48L719.35 170.18L719.35 198.59Z" fill="#b27272" fill-opacity="0.2"/>
<path d="M733.79 134.07L751.84 134.07L763.88 170.18L763.88 198.59Z" fill="#b27272" fill-opacity="0.38"/>
<path d="M796.62 134.07L780.73 134.07L763.88 170.18L763.88 198.59Z" fill="#b27272" fill-opacity="0.22"/>
<line x1="580" y1="141.39" x2="571.39" y2="140.69" stroke="#8d8d8d" stroke-width="1.35" opacity="0.85"/>
<line x1="571.39" y1="140.69" x2="562.78" y2="140" stroke="#c9403a" stroke-width="1.35" opacity="0.8"/>
<line x1="580" y1="141.39" x2="587.64" y2="140.42" stroke="#8d8d8d" stroke-width="1.35" opacity="0.85"/>
<line x1="587.64" y1="140.42" x2="595.28" y2="139.44" stroke="#c9403a" stroke-width="1.35" opacity="0.8"/>
<line x1="580" y1="141.39" x2="569.86" y2="148.75" stroke="#8d8d8d" stroke-width="1.35" opacity="0.85"/>
<line x1="569.86" y1="148.75" x2="559.72" y2="156.11" stroke="#c9403a" stroke-width="1.35" opacity="0.8"/>
<line x1="580" y1="141.39" x2="589.03" y2="145.69" stroke="#8d8d8d" stroke-width="1.35" opacity="0.85"/>
<line x1="589.03" y1="145.69" x2="598.06" y2="150" stroke="#c9403a" stroke-width="1.35" opacity="0.8"/>
<line x1="580" y1="141.39" x2="585.56" y2="153.33" stroke="#8d8d8d" stroke-width="1.35" opacity="0.85"/>
<line x1="585.56" y1="153.33" x2="591.11" y2="165.28" stroke="#c9403a" stroke-width="1.35" opacity="0.8"/>
<line x1="581.39" y1="154.72" x2="572.08" y2="147.36" stroke="#8d8d8d" stroke-width="1.35" opacity="0.85"/>
<line x1="572.08" y1="147.36" x2="562.78" y2="140" stroke="#c9403a" stroke-width="1.35" opacity="0.8"/>
<line x1="581.39" y1="154.72" x2="588.33" y2="147.08" stroke="#8d8d8d" stroke-width="1.35" opacity="0.85"/>
<line x1="588.33" y1="147.08" x2="595.28" y2="139.44" stroke="#c9403a" stroke-width="1.35" opacity="0.8"/>
<line x1="581.39" y1="154.72" x2="570.56" y2="155.42" stroke="#8d8d8d" stroke-width="1.35" opacity="0.85"/>
<line x1="570.56" y1="155.42" x2="559.72" y2="156.11" stroke="#c9403a" stroke-width="1.35" opacity="0.8"/>
<line x1="581.39" y1="154.72" x2="589.72" y2="152.36" stroke="#8d8d8d" stroke-width="1.35" opacity="0.85"/>
<line x1="589.72" y1="152.36" x2="598.06" y2="150" stroke="#c9403a" stroke-width="1.35" opacity="0.8"/>
<line x1="581.39" y1="154.72" x2="586.25" y2="160" stroke="#8d8d8d" stroke-width="1.35" opacity="0.85"/>
<line x1="586.25" y1="160" x2="591.11" y2="165.28" stroke="#c9403a" stroke-width="1.35" opacity="0.8"/>
<line x1="581.39" y1="154.72" x2="592.5" y2="161.94" stroke="#8d8d8d" stroke-width="1.35" opacity="0.85"/>
<line x1="592.5" y1="161.94" x2="603.61" y2="169.17" stroke="#c9403a" stroke-width="1.35" opacity="0.8"/>
<line x1="575.83" y1="167.22" x2="567.78" y2="161.67" stroke="#8d8d8d" stroke-width="1.35" opacity="0.85"/>
<line x1="567.78" y1="161.67" x2="559.72" y2="156.11" stroke="#c9403a" stroke-width="1.35" opacity="0.8"/>
<line x1="575.83" y1="167.22" x2="564.72" y2="165.14" stroke="#8d8d8d" stroke-width="1.35" opacity="0.85"/>
<line x1="564.72" y1="165.14" x2="553.61" y2="163.06" stroke="#c9403a" stroke-width="1.35" opacity="0.8"/>
<line x1="575.83" y1="167.22" x2="583.47" y2="166.25" stroke="#8d8d8d" stroke-width="1.35" opacity="0.85"/>
<line x1="583.47" y1="166.25" x2="591.11" y2="165.28" stroke="#c9403a" stroke-width="1.35" opacity="0.8"/>
<line x1="625.28" y1="146.39" x2="617.92" y2="147.78" stroke="#8d8d8d" stroke-width="1.35" opacity="0.85"/>
<line x1="617.92" y1="147.78" x2="610.56" y2="149.17" stroke="#c9403a" stroke-width="1.35" opacity="0.8"/>
<line x1="625.28" y1="146.39" x2="634.58" y2="140.83" stroke="#8d8d8d" stroke-width="1.35" opacity="0.85"/>
<line x1="634.58" y1="140.83" x2="643.89" y2="135.28" stroke="#c9403a" stroke-width="1.35" opacity="0.8"/>
<line x1="625.28" y1="146.39" x2="635" y2="152.64" stroke="#8d8d8d" stroke-width="1.35" opacity="0.85"/>
<line x1="635" y1="152.64" x2="644.72" y2="158.89" stroke="#c9403a" stroke-width="1.35" opacity="0.8"/>
<line x1="625.28" y1="146.39" x2="631.11" y2="154.03" stroke="#8d8d8d" stroke-width="1.35" opacity="0.85"/>
<line x1="631.11" y1="154.03" x2="636.94" y2="161.67" stroke="#c9403a" stroke-width="1.35" opacity="0.8"/>
<line x1="624.44" y1="161.67" x2="617.5" y2="155.42" stroke="#8d8d8d" stroke-width="1.35" opacity="0.85"/>
<line x1="617.5" y1="155.42" x2="610.56" y2="149.17" stroke="#c9403a" stroke-width="1.35" opacity="0.8"/>
<line x1="624.44" y1="161.67" x2="614.03" y2="165.42" stroke="#8d8d8d" stroke-width="1.35" opacity="0.85"/>
<line x1="614.03" y1="165.42" x2="603.61" y2="169.17" stroke="#c9403a" stroke-width="1.35" opacity="0.8"/>
<line x1="624.44" y1="161.67" x2="634.58" y2="160.28" stroke="#8d8d8d" stroke-width="1.35" opacity="0.85"/>
<line x1="634.58" y1="160.28" x2="644.72" y2="158.89" stroke="#c9403a" stroke-width="1.35" opacity="0.8"/>
<line x1="624.44" y1="161.67" x2="630.69" y2="161.67" stroke="#8d8d8d" stroke-width="1.35" opacity="0.85"/>
<line x1="630.69" y1="161.67" x2="636.94" y2="161.67" stroke="#c9403a" stroke-width="1.35" opacity="0.8"/>
<line x1="673.89" y1="138.89" x2="665.83" y2="139.86" stroke="#8d8d8d" stroke-width="1.35" opacity="0.85"/>
<line x1="665.83" y1="139.86" x2="657.78" y2="140.83" stroke="#c9403a" stroke-width="1.35" opacity="0.8"/>
<line x1="673.89" y1="138.89" x2="664.17" y2="145.42" stroke="#8d8d8d" stroke-width="1.35" opacity="0.85"/>
<line x1="664.17" y1="145.42" x2="654.44" y2="151.94" stroke="#c9403a" stroke-width="1.35" opacity="0.8"/>
<line x1="673.89" y1="138.89" x2="682.22" y2="138.06" stroke="#8d8d8d" stroke-width="1.35" opacity="0.85"/>
<line x1="682.22" y1="138.06" x2="690.56" y2="137.22" stroke="#c9403a" stroke-width="1.35" opacity="0.8"/>
<line x1="673.89" y1="138.89" x2="679.03" y2="150.97" stroke="#8d8d8d" stroke-width="1.35" opacity="0.85"/>
<line x1="679.03" y1="150.97" x2="684.17" y2="163.06" stroke="#c9403a" stroke-width="1.35" opacity="0.8"/>
<line x1="674.44" y1="155.28" x2="666.11" y2="148.06" stroke="#8d8d8d" stroke-width="1.35" opacity="0.85"/>
<line x1="666.11" y1="148.06" x2="657.78" y2="140.83" stroke="#c9403a" stroke-width="1.35" opacity="0.8"/>
<line x1="674.44" y1="155.28" x2="664.44" y2="153.61" stroke="#8d8d8d" stroke-width="1.35" opacity="0.85"/>
<line x1="664.44" y1="153.61" x2="654.44" y2="151.94" stroke="#c9403a" stroke-width="1.35" opacity="0.8"/>
<line x1="674.44" y1="155.28" x2="664.31" y2="160.83" stroke="#8d8d8d" stroke-width="1.35" opacity="0.85"/>
<line x1="664.31" y1="160.83" x2="654.17" y2="166.39" stroke="#c9403a" stroke-width="1.35" opacity="0.8"/>
<line x1="674.44" y1="155.28" x2="682.5" y2="146.25" stroke="#8d8d8d" stroke-width="1.35" opacity="0.85"/>
<line x1="682.5" y1="146.25" x2="690.56" y2="137.22" stroke="#c9403a" stroke-width="1.35" opacity="0.8"/>
<line x1="674.44" y1="155.28" x2="679.31" y2="159.17" stroke="#8d8d8d" stroke-width="1.35" opacity="0.85"/>
<line x1="679.31" y1="159.17" x2="684.17" y2="163.06" stroke="#c9403a" stroke-width="1.35" opacity="0.8"/>
<line x1="674.44" y1="155.28" x2="685.97" y2="159.86" stroke="#8d8d8d" stroke-width="1.35" opacity="0.85"/>
<line x1="685.97" y1="159.86" x2="697.5" y2="164.44" stroke="#c9403a" stroke-width="1.35" opacity="0.8"/>
<line x1="670.28" y1="164.44" x2="664.03" y2="152.64" stroke="#8d8d8d" stroke-width="1.35" opacity="0.85"/>
<line x1="664.03" y1="152.64" x2="657.78" y2="140.83" stroke="#c9403a" stroke-width="1.35" opacity="0.8"/>
<line x1="670.28" y1="164.44" x2="662.36" y2="158.19" stroke="#8d8d8d" stroke-width="1.35" opacity="0.85"/>
<line x1="662.36" y1="158.19" x2="654.44" y2="151.94" stroke="#c9403a" stroke-width="1.35" opacity="0.8"/>
<line x1="670.28" y1="164.44" x2="657.5" y2="161.67" stroke="#8d8d8d" stroke-width="1.35" opacity="0.85"/>
<line x1="657.5" y1="161.67" x2="644.72" y2="158.89" stroke="#c9403a" stroke-width="1.35" opacity="0.8"/>
<line x1="670.28" y1="164.44" x2="662.22" y2="165.42" stroke="#8d8d8d" stroke-width="1.35" opacity="0.85"/>
<line x1="662.22" y1="165.42" x2="654.17" y2="166.39" stroke="#c9403a" stroke-width="1.35" opacity="0.8"/>
<line x1="670.28" y1="164.44" x2="677.22" y2="163.75" stroke="#8d8d8d" stroke-width="1.35" opacity="0.85"/>
<line x1="677.22" y1="163.75" x2="684.17" y2="163.06" stroke="#c9403a" stroke-width="1.35" opacity="0.8"/>
<line x1="721.67" y1="142.22" x2="711.67" y2="140.14" stroke="#8d8d8d" stroke-width="1.35" opacity="0.85"/>
<line x1="711.67" y1="140.14" x2="701.67" y2="138.06" stroke="#c9403a" stroke-width="1.35" opacity="0.8"/>
<line x1="721.67" y1="142.22" x2="711.67" y2="149.44" stroke="#8d8d8d" stroke-width="1.35" opacity="0.85"/>
<line x1="711.67" y1="149.44" x2="701.67" y2="156.67" stroke="#c9403a" stroke-width="1.35" opacity="0.8"/>
<line x1="721.67" y1="142.22" x2="728.33" y2="137.36" stroke="#8d8d8d" stroke-width="1.35" opacity="0.85"/>
<line x1="728.33" y1="137.36" x2="735" y2="132.5" stroke="#c9403a" stroke-width="1.35" opacity="0.8"/>
<line x1="721.67" y1="142.22" x2="734.17" y2="145.69" stroke="#8d8d8d" stroke-width="1.35" opacity="0.85"/>
<line x1="734.17" y1="145.69" x2="746.67" y2="149.17" stroke="#c9403a" stroke-width="1.35" opacity="0.8"/>
<line x1="721.67" y1="142.22" x2="731.39" y2="149.17" stroke="#8d8d8d" stroke-width="1.35" opacity="0.85"/>
<line x1="731.39" y1="149.17" x2="741.11" y2="156.11" stroke="#c9403a" stroke-width="1.35" opacity="0.8"/>
<line x1="718.89" y1="156.94" x2="710.28" y2="147.5" stroke="#8d8d8d" stroke-width="1.35" opacity="0.85"/>
<line x1="710.28" y1="147.5" x2="701.67" y2="138.06" stroke="#c9403a" stroke-width="1.35" opacity="0.8"/>
<line x1="718.89" y1="156.94" x2="708.19" y2="160.69" stroke="#8d8d8d" stroke-width="1.35" opacity="0.85"/>
<line x1="708.19" y1="160.69" x2="697.5" y2="164.44" stroke="#c9403a" stroke-width="1.35" opacity="0.8"/>
<line x1="718.89" y1="156.94" x2="710.28" y2="156.81" stroke="#8d8d8d" stroke-width="1.35" opacity="0.85"/>
<line x1="710.28" y1="156.81" x2="701.67" y2="156.67" stroke="#c9403a" stroke-width="1.35" opacity="0.8"/>
<line x1="718.89" y1="156.94" x2="730" y2="156.53" stroke="#8d8d8d" stroke-width="1.35" opacity="0.85"/>
<line x1="730" y1="156.53" x2="741.11" y2="156.11" stroke="#c9403a" stroke-width="1.35" opacity="0.8"/>
<line x1="718.89" y1="156.94" x2="732.08" y2="157.92" stroke="#8d8d8d" stroke-width="1.35" opacity="0.85"/>
<line x1="732.08" y1="157.92" x2="745.28" y2="158.89" stroke="#c9403a" stroke-width="1.35" opacity="0.8"/>
<line x1="766.11" y1="134.72" x2="757.78" y2="134.31" stroke="#8d8d8d" stroke-width="1.35" opacity="0.85"/>
<line x1="757.78" y1="134.31" x2="749.44" y2="133.89" stroke="#c9403a" stroke-width="1.35" opacity="0.8"/>
<line x1="766.11" y1="134.72" x2="756.39" y2="141.94" stroke="#8d8d8d" stroke-width="1.35" opacity="0.85"/>
<line x1="756.39" y1="141.94" x2="746.67" y2="149.17" stroke="#c9403a" stroke-width="1.35" opacity="0.8"/>
<line x1="766.11" y1="134.72" x2="773.75" y2="134.03" stroke="#8d8d8d" stroke-width="1.35" opacity="0.85"/>
<line x1="773.75" y1="134.03" x2="781.39" y2="133.33" stroke="#c9403a" stroke-width="1.35" opacity="0.8"/>
<line x1="766.11" y1="134.72" x2="779.31" y2="135" stroke="#8d8d8d" stroke-width="1.35" opacity="0.85"/>
<line x1="779.31" y1="135" x2="792.5" y2="135.28" stroke="#c9403a" stroke-width="1.35" opacity="0.8"/>
<line x1="766.11" y1="134.72" x2="775.83" y2="139.17" stroke="#8d8d8d" stroke-width="1.35" opacity="0.85"/>
<line x1="775.83" y1="139.17" x2="785.56" y2="143.61" stroke="#c9403a" stroke-width="1.35" opacity="0.8"/>
<line x1="767.5" y1="148.33" x2="758.47" y2="141.11" stroke="#8d8d8d" stroke-width="1.35" opacity="0.85"/>
<line x1="758.47" y1="141.11" x2="749.44" y2="133.89" stroke="#c9403a" stroke-width="1.35" opacity="0.8"/>
<line x1="767.5" y1="148.33" x2="757.08" y2="148.75" stroke="#8d8d8d" stroke-width="1.35" opacity="0.85"/>
<line x1="757.08" y1="148.75" x2="746.67" y2="149.17" stroke="#c9403a" stroke-width="1.35" opacity="0.8"/>
<line x1="767.5" y1="148.33" x2="756.39" y2="153.61" stroke="#8d8d8d" stroke-width="1.35" opacity="0.85"/>
<line x1="756.39" y1="153.61" x2="745.28" y2="158.89" stroke="#c9403a" stroke-width="1.35" opacity="0.8"/>
<line x1="767.5" y1="148.33" x2="774.44" y2="140.83" stroke="#8d8d8d" stroke-width="1.35" opacity="0.85"/>
<line x1="774.44" y1="140.83" x2="781.39" y2="133.33" stroke="#c9403a" stroke-width="1.35" opacity="0.8"/>
<line x1="767.5" y1="148.33" x2="776.53" y2="145.97" stroke="#8d8d8d" stroke-width="1.35" opacity="0.85"/>
<line x1="776.53" y1="145.97" x2="785.56" y2="143.61" stroke="#c9403a" stroke-width="1.35" opacity="0.8"/>
<line x1="767.5" y1="148.33" x2="772.64" y2="154.31" stroke="#8d8d8d" stroke-width="1.35" opacity="0.85"/>
<line x1="772.64" y1="154.31" x2="777.78" y2="160.28" stroke="#c9403a" stroke-width="1.35" opacity="0.8"/>
<line x1="767.5" y1="148.33" x2="778.89" y2="155.42" stroke="#8d8d8d" stroke-width="1.35" opacity="0.85"/>
<line x1="778.89" y1="155.42" x2="790.28" y2="162.5" stroke="#c9403a" stroke-width="1.35" opacity="0.8"/>
<line x1="762.78" y1="161.67" x2="754.72" y2="155.42" stroke="#8d8d8d" stroke-width="1.35" opacity="0.85"/>
<line x1="754.72" y1="155.42" x2="746.67" y2="149.17" stroke="#c9403a" stroke-width="1.35" opacity="0.8"/>
<line x1="762.78" y1="161.67" x2="751.94" y2="158.89" stroke="#8d8d8d" stroke-width="1.35" opacity="0.85"/>
<line x1="751.94" y1="158.89" x2="741.11" y2="156.11" stroke="#c9403a" stroke-width="1.35" opacity="0.8"/>
<line x1="762.78" y1="161.67" x2="754.03" y2="160.28" stroke="#8d8d8d" stroke-width="1.35" opacity="0.85"/>
<line x1="754.03" y1="160.28" x2="745.28" y2="158.89" stroke="#c9403a" stroke-width="1.35" opacity="0.8"/>
<line x1="762.78" y1="161.67" x2="770.28" y2="160.97" stroke="#8d8d8d" stroke-width="1.35" opacity="0.85"/>
<line x1="770.28" y1="160.97" x2="777.78" y2="160.28" stroke="#c9403a" stroke-width="1.35" opacity="0.8"/>
<circle cx="735" cy="132.5" r="3.6" fill="url(#gI)"/>
<circle cx="781.39" cy="133.33" r="3.6" fill="url(#gI)"/>
<circle cx="749.44" cy="133.89" r="3.6" fill="url(#gI)"/>
<circle cx="766.11" cy="134.72" r="5" fill="url(#gPb)"/>
<circle cx="643.89" cy="135.28" r="3.6" fill="url(#gI)"/>
<circle cx="792.5" cy="135.28" r="3.6" fill="url(#gI)"/>
<circle cx="690.56" cy="137.22" r="3.6" fill="url(#gI)"/>
<circle cx="701.67" cy="138.06" r="3.6" fill="url(#gI)"/>
<circle cx="548.89" cy="138.89" r="3.6" fill="url(#gI)"/>
<circle cx="673.89" cy="138.89" r="5" fill="url(#gPb)"/>
<circle cx="595.28" cy="139.44" r="3.6" fill="url(#gI)"/>
<circle cx="562.78" cy="140" r="3.6" fill="url(#gI)"/>
<circle cx="657.78" cy="140.83" r="3.6" fill="url(#gI)"/>
<circle cx="580" cy="141.39" r="5" fill="url(#gPb)"/>
<circle cx="721.67" cy="142.22" r="5" fill="url(#gPb)"/>
<circle cx="785.56" cy="143.61" r="3.6" fill="url(#gI)"/>
<circle cx="625.28" cy="146.39" r="5" fill="url(#gPb)"/>
<circle cx="767.5" cy="148.33" r="5" fill="url(#gPb)"/>
<circle cx="610.56" cy="149.17" r="3.6" fill="url(#gI)"/>
<circle cx="746.67" cy="149.17" r="3.6" fill="url(#gI)"/>
<circle cx="598.06" cy="150" r="3.6" fill="url(#gI)"/>
<circle cx="654.44" cy="151.94" r="3.6" fill="url(#gI)"/>
<circle cx="581.39" cy="154.72" r="5" fill="url(#gPb)"/>
<circle cx="674.44" cy="155.28" r="5" fill="url(#gPb)"/>
<circle cx="559.72" cy="156.11" r="3.6" fill="url(#gI)"/>
<circle cx="741.11" cy="156.11" r="3.6" fill="url(#gI)"/>
<circle cx="701.67" cy="156.67" r="3.6" fill="url(#gI)"/>
<circle cx="718.89" cy="156.94" r="5" fill="url(#gPb)"/>
<circle cx="644.72" cy="158.89" r="3.6" fill="url(#gI)"/>
<circle cx="745.28" cy="158.89" r="3.6" fill="url(#gI)"/>
<circle cx="777.78" cy="160.28" r="3.6" fill="url(#gI)"/>
<circle cx="636.94" cy="161.67" r="3.6" fill="url(#gI)"/>
<circle cx="624.44" cy="161.67" r="5" fill="url(#gPb)"/>
<circle cx="762.78" cy="161.67" r="5" fill="url(#gPb)"/>
<circle cx="790.28" cy="162.5" r="3.6" fill="url(#gI)"/>
<circle cx="553.61" cy="163.06" r="3.6" fill="url(#gI)"/>
<circle cx="684.17" cy="163.06" r="3.6" fill="url(#gI)"/>
<circle cx="547.22" cy="164.44" r="3.6" fill="url(#gI)"/>
<circle cx="697.5" cy="164.44" r="3.6" fill="url(#gI)"/>
<circle cx="670.28" cy="164.44" r="5" fill="url(#gPb)"/>
<circle cx="591.11" cy="165.28" r="3.6" fill="url(#gI)"/>
<circle cx="654.17" cy="166.39" r="3.6" fill="url(#gI)"/>
<circle cx="575.83" cy="167.22" r="5" fill="url(#gPb)"/>
<circle cx="603.61" cy="169.17" r="3.6" fill="url(#gI)"/>
<circle cx="721.67" cy="188.06" r="3.6" fill="url(#gI)"/>
<circle cx="620.28" cy="191.67" r="3.6" fill="url(#gI)"/>
<circle cx="763.33" cy="193.61" r="3.6" fill="url(#gI)"/>
<circle cx="671.67" cy="195" r="3.6" fill="url(#gI)"/>
</g>
<circle cx="109.72" cy="138.06" r="21.5" fill="#e3edf7" fill-opacity="0.62" stroke="#9a9a9a" stroke-width="1.15" stroke-dasharray="4.6 3"/>
<circle cx="110.56" cy="133.33" r="5.2" fill="url(#gPb)" opacity="0.55"/>
<circle cx="114.44" cy="154.17" r="6.4" fill="url(#gCs)" opacity="0.3"/>
<circle cx="106.11" cy="160.28" r="5.4" fill="url(#gPb)"/>
<line x1="95.28" y1="60.83" x2="102.92" y2="57.78" stroke="#7a4a22" stroke-width="1.5"/>
<line x1="102.92" y1="57.78" x2="110.56" y2="54.72" stroke="#7a4a22" stroke-width="1.5"/>
<line x1="110.56" y1="54.72" x2="115.97" y2="59.58" stroke="#7a4a22" stroke-width="1.5"/>
<line x1="115.97" y1="59.58" x2="121.39" y2="64.44" stroke="#7a4a22" stroke-width="1.5"/>
<line x1="121.39" y1="64.44" x2="120.69" y2="72.36" stroke="#7a4a22" stroke-width="1.5"/>
<line x1="120.69" y1="72.36" x2="120" y2="80.28" stroke="#7a4a22" stroke-width="1.5"/>
<line x1="120" y1="80.28" x2="112.5" y2="83.19" stroke="#7a4a22" stroke-width="1.5"/>
<line x1="112.5" y1="83.19" x2="105" y2="86.11" stroke="#7a4a22" stroke-width="1.5"/>
<line x1="105" y1="86.11" x2="99.03" y2="80.42" stroke="#7a4a22" stroke-width="1.5"/>
<line x1="99.03" y1="80.42" x2="93.06" y2="74.72" stroke="#7a4a22" stroke-width="1.5"/>
<line x1="93.06" y1="74.72" x2="94.17" y2="67.78" stroke="#7a4a22" stroke-width="1.5"/>
<line x1="94.17" y1="67.78" x2="95.28" y2="60.83" stroke="#7a4a22" stroke-width="1.5"/>
<line x1="121.39" y1="64.44" x2="129.72" y2="61.67" stroke="#7a4a22" stroke-width="1.5"/>
<line x1="129.72" y1="61.67" x2="138.06" y2="58.89" stroke="#e2a21e" stroke-width="1.5"/>
<line x1="138.06" y1="58.89" x2="138.89" y2="50.28" stroke="#e2a21e" stroke-width="1.5"/>
<line x1="138.89" y1="50.28" x2="139.72" y2="41.67" stroke="#7a4a22" stroke-width="1.5"/>
<line x1="139.72" y1="41.67" x2="134.17" y2="39.44" stroke="#7a4a22" stroke-width="1.5"/>
<line x1="134.17" y1="39.44" x2="128.61" y2="37.22" stroke="#8fc8ea" stroke-width="1.5"/>
<line x1="139.72" y1="41.67" x2="143.47" y2="39.86" stroke="#7a4a22" stroke-width="1.5"/>
<line x1="143.47" y1="39.86" x2="147.22" y2="38.06" stroke="#8fc8ea" stroke-width="1.5"/>
<line x1="95.28" y1="60.83" x2="90.69" y2="56.67" stroke="#7a4a22" stroke-width="1.5"/>
<line x1="90.69" y1="56.67" x2="86.11" y2="52.5" stroke="#8fc8ea" stroke-width="1.5"/>
<line x1="110.56" y1="54.72" x2="111.81" y2="48.75" stroke="#7a4a22" stroke-width="1.5"/>
<line x1="111.81" y1="48.75" x2="113.06" y2="42.78" stroke="#8fc8ea" stroke-width="1.5"/>
<line x1="93.06" y1="74.72" x2="87.78" y2="76.81" stroke="#7a4a22" stroke-width="1.5"/>
<line x1="87.78" y1="76.81" x2="82.5" y2="78.89" stroke="#8fc8ea" stroke-width="1.5"/>
<line x1="120" y1="80.28" x2="124.58" y2="84.17" stroke="#7a4a22" stroke-width="1.5"/>
<line x1="124.58" y1="84.17" x2="129.17" y2="88.06" stroke="#8fc8ea" stroke-width="1.5"/>
<line x1="105" y1="86.11" x2="103.47" y2="94.31" stroke="#7a4a22" stroke-width="1.5"/>
<line x1="103.47" y1="94.31" x2="101.94" y2="102.5" stroke="#7a4a22" stroke-width="1.5"/>
<line x1="101.94" y1="102.5" x2="108.19" y2="107.36" stroke="#7a4a22" stroke-width="1.5"/>
<line x1="108.19" y1="107.36" x2="114.44" y2="112.22" stroke="#7a4a22" stroke-width="1.5"/>
<line x1="101.94" y1="102.5" x2="98.19" y2="102.92" stroke="#7a4a22" stroke-width="1.5"/>
<line x1="98.19" y1="102.92" x2="94.44" y2="103.33" stroke="#8fc8ea" stroke-width="1.5"/>
<line x1="114.44" y1="112.22" x2="117.92" y2="111.25" stroke="#7a4a22" stroke-width="1.5"/>
<line x1="117.92" y1="111.25" x2="121.39" y2="110.28" stroke="#8fc8ea" stroke-width="1.5"/>
<line x1="114.44" y1="112.22" x2="112.08" y2="120.28" stroke="#7a4a22" stroke-width="1.5"/>
<line x1="112.08" y1="120.28" x2="109.72" y2="128.33" stroke="#2a2fc8" stroke-width="1.5"/>
<line x1="109.72" y1="128.33" x2="105.56" y2="129.72" stroke="#2a2fc8" stroke-width="1.5"/>
<line x1="105.56" y1="129.72" x2="101.39" y2="131.11" stroke="#8fc8ea" stroke-width="1.5"/>
<line x1="109.72" y1="128.33" x2="113.89" y2="132.08" stroke="#2a2fc8" stroke-width="1.5"/>
<line x1="113.89" y1="132.08" x2="118.06" y2="135.83" stroke="#8fc8ea" stroke-width="1.5"/>
<circle cx="95.28" cy="60.83" r="3" fill="url(#gC)"/>
<circle cx="110.56" cy="54.72" r="3" fill="url(#gC)"/>
<circle cx="121.39" cy="64.44" r="3" fill="url(#gC)"/>
<circle cx="120" cy="80.28" r="3" fill="url(#gC)"/>
<circle cx="105" cy="86.11" r="3" fill="url(#gC)"/>
<circle cx="93.06" cy="74.72" r="3" fill="url(#gC)"/>
<circle cx="138.06" cy="58.89" r="2.9" fill="url(#gO)"/>
<circle cx="139.72" cy="41.67" r="3" fill="url(#gC)"/>
<circle cx="128.61" cy="37.22" r="2.05" fill="url(#gH)"/>
<circle cx="147.22" cy="38.06" r="2.05" fill="url(#gH)"/>
<circle cx="86.11" cy="52.5" r="2.05" fill="url(#gH)"/>
<circle cx="113.06" cy="42.78" r="2.05" fill="url(#gH)"/>
<circle cx="82.5" cy="78.89" r="2.05" fill="url(#gH)"/>
<circle cx="129.17" cy="88.06" r="2.05" fill="url(#gH)"/>
<circle cx="101.94" cy="102.5" r="3" fill="url(#gC)"/>
<circle cx="114.44" cy="112.22" r="3" fill="url(#gC)"/>
<circle cx="94.44" cy="103.33" r="2.05" fill="url(#gH)"/>
<circle cx="121.39" cy="110.28" r="2.05" fill="url(#gH)"/>
<circle cx="109.72" cy="128.33" r="3" fill="url(#gN)"/>
<circle cx="101.39" cy="131.11" r="2.05" fill="url(#gH)"/>
<circle cx="118.06" cy="135.83" r="2.05" fill="url(#gH)"/>
<line x1="369.72" y1="88.61" x2="375.83" y2="83.89" stroke="#7a4a22" stroke-width="1.5"/>
<line x1="375.83" y1="83.89" x2="381.94" y2="79.17" stroke="#7a4a22" stroke-width="1.5"/>
<line x1="381.94" y1="79.17" x2="388.89" y2="82.64" stroke="#7a4a22" stroke-width="1.5"/>
<line x1="388.89" y1="82.64" x2="395.83" y2="86.11" stroke="#7a4a22" stroke-width="1.5"/>
<line x1="395.83" y1="86.11" x2="396.94" y2="93.75" stroke="#7a4a22" stroke-width="1.5"/>
<line x1="396.94" y1="93.75" x2="398.06" y2="101.39" stroke="#7a4a22" stroke-width="1.5"/>
<line x1="398.06" y1="101.39" x2="391.81" y2="105.83" stroke="#7a4a22" stroke-width="1.5"/>
<line x1="391.81" y1="105.83" x2="385.56" y2="110.28" stroke="#7a4a22" stroke-width="1.5"/>
<line x1="385.56" y1="110.28" x2="378.61" y2="106.81" stroke="#7a4a22" stroke-width="1.5"/>
<line x1="378.61" y1="106.81" x2="371.67" y2="103.33" stroke="#7a4a22" stroke-width="1.5"/>
<line x1="371.67" y1="103.33" x2="370.69" y2="95.97" stroke="#7a4a22" stroke-width="1.5"/>
<line x1="370.69" y1="95.97" x2="369.72" y2="88.61" stroke="#7a4a22" stroke-width="1.5"/>
<line x1="369.72" y1="88.61" x2="364.72" y2="86.94" stroke="#7a4a22" stroke-width="1.5"/>
<line x1="364.72" y1="86.94" x2="359.72" y2="85.28" stroke="#8fc8ea" stroke-width="1.5"/>
<line x1="381.94" y1="79.17" x2="381.39" y2="73.47" stroke="#7a4a22" stroke-width="1.5"/>
<line x1="381.39" y1="73.47" x2="380.83" y2="67.78" stroke="#8fc8ea" stroke-width="1.5"/>
<line x1="371.67" y1="103.33" x2="367.08" y2="107.08" stroke="#7a4a22" stroke-width="1.5"/>
<line x1="367.08" y1="107.08" x2="362.5" y2="110.83" stroke="#8fc8ea" stroke-width="1.5"/>
<line x1="398.06" y1="101.39" x2="403.33" y2="103.75" stroke="#7a4a22" stroke-width="1.5"/>
<line x1="403.33" y1="103.75" x2="408.61" y2="106.11" stroke="#8fc8ea" stroke-width="1.5"/>
<line x1="395.83" y1="86.11" x2="402.78" y2="80.83" stroke="#7a4a22" stroke-width="1.5"/>
<line x1="402.78" y1="80.83" x2="409.72" y2="75.56" stroke="#7a4a22" stroke-width="1.5"/>
<line x1="409.72" y1="75.56" x2="406.39" y2="67.64" stroke="#7a4a22" stroke-width="1.5"/>
<line x1="406.39" y1="67.64" x2="403.06" y2="59.72" stroke="#7a4a22" stroke-width="1.5"/>
<line x1="403.06" y1="59.72" x2="409.58" y2="55.14" stroke="#7a4a22" stroke-width="1.5"/>
<line x1="409.58" y1="55.14" x2="416.11" y2="50.56" stroke="#2a2fc8" stroke-width="1.5"/>
<line x1="409.72" y1="75.56" x2="413.61" y2="76.53" stroke="#7a4a22" stroke-width="1.5"/>
<line x1="413.61" y1="76.53" x2="417.5" y2="77.5" stroke="#8fc8ea" stroke-width="1.5"/>
<line x1="403.06" y1="59.72" x2="399.17" y2="59.31" stroke="#7a4a22" stroke-width="1.5"/>
<line x1="399.17" y1="59.31" x2="395.28" y2="58.89" stroke="#8fc8ea" stroke-width="1.5"/>
<line x1="416.11" y1="50.56" x2="415.69" y2="45.42" stroke="#2a2fc8" stroke-width="1.5"/>
<line x1="415.69" y1="45.42" x2="415.28" y2="40.28" stroke="#8fc8ea" stroke-width="1.5"/>
<line x1="416.11" y1="50.56" x2="418.47" y2="49.17" stroke="#2a2fc8" stroke-width="1.5"/>
<line x1="418.47" y1="49.17" x2="420.83" y2="47.78" stroke="#8fc8ea" stroke-width="1.5"/>
<line x1="385.56" y1="110.28" x2="386.53" y2="117.92" stroke="#7a4a22" stroke-width="1.5"/>
<line x1="386.53" y1="117.92" x2="387.5" y2="125.56" stroke="#e2a21e" stroke-width="1.5"/>
<line x1="387.5" y1="125.56" x2="380.97" y2="129.72" stroke="#e2a21e" stroke-width="1.5"/>
<line x1="380.97" y1="129.72" x2="374.44" y2="133.89" stroke="#7a4a22" stroke-width="1.5"/>
<line x1="374.44" y1="133.89" x2="371.39" y2="131.53" stroke="#7a4a22" stroke-width="1.5"/>
<line x1="371.39" y1="131.53" x2="368.33" y2="129.17" stroke="#8fc8ea" stroke-width="1.5"/>
<line x1="374.44" y1="133.89" x2="376.53" y2="138.75" stroke="#7a4a22" stroke-width="1.5"/>
<line x1="376.53" y1="138.75" x2="378.61" y2="143.61" stroke="#8fc8ea" stroke-width="1.5"/>
<line x1="374.44" y1="133.89" x2="371.11" y2="135" stroke="#7a4a22" stroke-width="1.5"/>
<line x1="371.11" y1="135" x2="367.78" y2="136.11" stroke="#8fc8ea" stroke-width="1.5"/>
<circle cx="369.72" cy="88.61" r="3" fill="url(#gC)"/>
<circle cx="381.94" cy="79.17" r="3" fill="url(#gC)"/>
<circle cx="395.83" cy="86.11" r="3" fill="url(#gC)"/>
<circle cx="398.06" cy="101.39" r="3" fill="url(#gC)"/>
<circle cx="385.56" cy="110.28" r="3" fill="url(#gC)"/>
<circle cx="371.67" cy="103.33" r="3" fill="url(#gC)"/>
<circle cx="359.72" cy="85.28" r="2.05" fill="url(#gH)"/>
<circle cx="380.83" cy="67.78" r="2.05" fill="url(#gH)"/>
<circle cx="362.5" cy="110.83" r="2.05" fill="url(#gH)"/>
<circle cx="408.61" cy="106.11" r="2.05" fill="url(#gH)"/>
<circle cx="409.72" cy="75.56" r="3" fill="url(#gC)"/>
<circle cx="403.06" cy="59.72" r="3" fill="url(#gC)"/>
<circle cx="416.11" cy="50.56" r="3" fill="url(#gN)"/>
<circle cx="417.5" cy="77.5" r="2.05" fill="url(#gH)"/>
<circle cx="395.28" cy="58.89" r="2.05" fill="url(#gH)"/>
<circle cx="415.28" cy="40.28" r="2.05" fill="url(#gH)"/>
<circle cx="420.83" cy="47.78" r="2.05" fill="url(#gH)"/>
<circle cx="387.5" cy="125.56" r="2.9" fill="url(#gO)"/>
<circle cx="374.44" cy="133.89" r="3" fill="url(#gC)"/>
<circle cx="368.33" cy="129.17" r="2.05" fill="url(#gH)"/>
<circle cx="378.61" cy="143.61" r="2.05" fill="url(#gH)"/>
<circle cx="367.78" cy="136.11" r="2.05" fill="url(#gH)"/>
<line x1="391.67" y1="127.22" x2="410.56" y2="145" stroke="#222" stroke-width="1.7" stroke-dasharray="3.6 2.8"/>
<circle cx="632.22" cy="136.67" r="21" fill="#eef3f9" fill-opacity="0.42"/>
<line x1="641.11" y1="128.33" x2="638.33" y2="124.44" stroke="#2a2fc8" stroke-width="1.5"/>
<line x1="638.33" y1="124.44" x2="635.56" y2="120.56" stroke="#8fc8ea" stroke-width="1.5"/>
<line x1="641.11" y1="128.33" x2="638.33" y2="130.83" stroke="#2a2fc8" stroke-width="1.5"/>
<line x1="638.33" y1="130.83" x2="635.56" y2="133.33" stroke="#8fc8ea" stroke-width="1.5"/>
<line x1="641.11" y1="128.33" x2="643.61" y2="130" stroke="#2a2fc8" stroke-width="1.5"/>
<line x1="643.61" y1="130" x2="646.11" y2="131.67" stroke="#8fc8ea" stroke-width="1.5"/>
<line x1="641.11" y1="128.33" x2="647.08" y2="126.25" stroke="#2a2fc8" stroke-width="1.5"/>
<line x1="647.08" y1="126.25" x2="653.06" y2="124.17" stroke="#7a4a22" stroke-width="1.5"/>
<line x1="653.06" y1="124.17" x2="658.89" y2="120.97" stroke="#7a4a22" stroke-width="1.5"/>
<line x1="658.89" y1="120.97" x2="664.72" y2="117.78" stroke="#7a4a22" stroke-width="1.5"/>
<line x1="664.72" y1="117.78" x2="672.08" y2="119.17" stroke="#7a4a22" stroke-width="1.5"/>
<line x1="672.08" y1="119.17" x2="679.44" y2="120.56" stroke="#7a4a22" stroke-width="1.5"/>
<line x1="679.44" y1="120.56" x2="685" y2="120.28" stroke="#7a4a22" stroke-width="1.5"/>
<line x1="685" y1="120.28" x2="690.56" y2="120" stroke="#7a4a22" stroke-width="1.5"/>
<line x1="690.56" y1="120" x2="697.5" y2="120.69" stroke="#7a4a22" stroke-width="1.5"/>
<line x1="697.5" y1="120.69" x2="704.44" y2="121.39" stroke="#7a4a22" stroke-width="1.5"/>
<line x1="704.44" y1="121.39" x2="702.22" y2="123.47" stroke="#7a4a22" stroke-width="1.5"/>
<line x1="702.22" y1="123.47" x2="700" y2="125.56" stroke="#7a4a22" stroke-width="1.5"/>
<line x1="700" y1="125.56" x2="695.83" y2="125.83" stroke="#7a4a22" stroke-width="1.5"/>
<line x1="695.83" y1="125.83" x2="691.67" y2="126.11" stroke="#7a4a22" stroke-width="1.5"/>
<line x1="691.67" y1="126.11" x2="688.06" y2="124.72" stroke="#7a4a22" stroke-width="1.5"/>
<line x1="688.06" y1="124.72" x2="684.44" y2="123.33" stroke="#7a4a22" stroke-width="1.5"/>
<line x1="684.44" y1="123.33" x2="681.94" y2="121.94" stroke="#7a4a22" stroke-width="1.5"/>
<line x1="681.94" y1="121.94" x2="679.44" y2="120.56" stroke="#7a4a22" stroke-width="1.5"/>
<line x1="664.72" y1="117.78" x2="664.03" y2="113.06" stroke="#7a4a22" stroke-width="1.5"/>
<line x1="664.03" y1="113.06" x2="663.33" y2="108.33" stroke="#8fc8ea" stroke-width="1.5"/>
<line x1="653.06" y1="124.17" x2="650.83" y2="120.69" stroke="#7a4a22" stroke-width="1.5"/>
<line x1="650.83" y1="120.69" x2="648.61" y2="117.22" stroke="#8fc8ea" stroke-width="1.5"/>
<line x1="653.06" y1="124.17" x2="654.03" y2="128.33" stroke="#7a4a22" stroke-width="1.5"/>
<line x1="654.03" y1="128.33" x2="655" y2="132.5" stroke="#8fc8ea" stroke-width="1.5"/>
<line x1="664.72" y1="117.78" x2="665.69" y2="121.11" stroke="#7a4a22" stroke-width="1.5"/>
<line x1="665.69" y1="121.11" x2="666.67" y2="124.44" stroke="#8fc8ea" stroke-width="1.5"/>
<line x1="679.44" y1="120.56" x2="676.25" y2="121.94" stroke="#7a4a22" stroke-width="1.5"/>
<line x1="676.25" y1="121.94" x2="673.06" y2="123.33" stroke="#8fc8ea" stroke-width="1.5"/>
<line x1="704.44" y1="121.39" x2="710.56" y2="122.36" stroke="#7a4a22" stroke-width="1.5"/>
<line x1="710.56" y1="122.36" x2="716.67" y2="123.33" stroke="#8fc8ea" stroke-width="1.5"/>
<line x1="704.44" y1="121.39" x2="707.78" y2="121.11" stroke="#7a4a22" stroke-width="1.5"/>
<line x1="707.78" y1="121.11" x2="711.11" y2="120.83" stroke="#8fc8ea" stroke-width="1.5"/>
<line x1="691.67" y1="126.11" x2="694.86" y2="124.72" stroke="#7a4a22" stroke-width="1.5"/>
<line x1="694.86" y1="124.72" x2="698.06" y2="123.33" stroke="#e2a21e" stroke-width="1.5"/>
<circle cx="641.11" cy="128.33" r="3" fill="url(#gN)"/>
<circle cx="635.56" cy="120.56" r="2.05" fill="url(#gH)"/>
<circle cx="635.56" cy="133.33" r="2.05" fill="url(#gH)"/>
<circle cx="646.11" cy="131.67" r="2.05" fill="url(#gH)"/>
<circle cx="653.06" cy="124.17" r="3" fill="url(#gC)"/>
<circle cx="664.72" cy="117.78" r="3" fill="url(#gC)"/>
<circle cx="679.44" cy="120.56" r="3" fill="url(#gC)"/>
<circle cx="690.56" cy="120" r="3" fill="url(#gC)"/>
<circle cx="691.67" cy="126.11" r="3" fill="url(#gC)"/>
<circle cx="704.44" cy="121.39" r="3" fill="url(#gC)"/>
<circle cx="700" cy="125.56" r="3" fill="url(#gC)"/>
<circle cx="684.44" cy="123.33" r="3" fill="url(#gC)"/>
<circle cx="663.33" cy="108.33" r="2.05" fill="url(#gH)"/>
<circle cx="648.61" cy="117.22" r="2.05" fill="url(#gH)"/>
<circle cx="655" cy="132.5" r="2.05" fill="url(#gH)"/>
<circle cx="666.67" cy="124.44" r="2.05" fill="url(#gH)"/>
<circle cx="673.06" cy="123.33" r="2.05" fill="url(#gH)"/>
<circle cx="716.67" cy="123.33" r="2.05" fill="url(#gH)"/>
<circle cx="711.11" cy="120.83" r="2.05" fill="url(#gH)"/>
<circle cx="698.06" cy="123.33" r="2.9" fill="url(#gO)"/>
<line x1="701.39" y1="127.22" x2="715.56" y2="141.11" stroke="#222" stroke-width="1.7" stroke-dasharray="3.6 2.8"/>
<text transform="translate(201.5,62.8) scale(1.04,1)" font-size="14.2">Head</text>
<text transform="translate(484.5,62.8) scale(1.04,1)" font-size="14.2">Tail</text>
<text transform="translate(687,62.8) scale(1.04,1)" font-size="14.2">Double-end</text>
<circle cx="86.8" cy="220.4" r="6.9" fill="url(#gCsL)"/>
<text transform="translate(102.6,225.2) scale(1.04,1)" font-size="14.2">Cs</text>
<circle cx="141.2" cy="220.4" r="6.9" fill="url(#gPb)"/>
<text transform="translate(156,225.2) scale(1.04,1)" font-size="14.2">Pb</text>
<circle cx="199.8" cy="220.4" r="6.9" fill="url(#gI)"/>
<text transform="translate(218.4,225.2) scale(1.04,1)" font-size="14.2">I</text>
<circle cx="253.4" cy="220.4" r="6.9" fill="url(#gN)"/>
<text transform="translate(271.5,225.2) scale(1.04,1)" font-size="14.2">N</text>
<circle cx="312.6" cy="220.4" r="6.9" fill="url(#gC)"/>
<text transform="translate(328.5,225.2) scale(1.04,1)" font-size="14.2">C</text>
<circle cx="373" cy="220.4" r="6.9" fill="url(#gO)"/>
<text transform="translate(390,225.2) scale(1.04,1)" font-size="14.2">O</text>
<circle cx="432" cy="220.4" r="6.9" fill="url(#gH)"/>
<text transform="translate(449.3,225.2) scale(1.04,1)" font-size="14.2">H</text>
<text transform="translate(0.2,13.8) scale(1.16,1)" font-size="16.8" font-weight="bold" stroke="#141414" stroke-width="0.5" fill="#141414">a</text>
<text transform="translate(830.6,13.9) scale(1.16,1)" font-size="16.8" font-weight="bold" stroke="#141414" stroke-width="0.5" fill="#141414">b</text>
<text transform="translate(0.2,267.2) scale(1.16,1)" font-size="16.8" font-weight="bold" stroke="#141414" stroke-width="0.5" fill="#141414">c</text>
<text transform="translate(829.6,262.9) scale(1.16,1)" font-size="16.8" font-weight="bold" stroke="#141414" stroke-width="0.5" fill="#141414">d</text>
<text transform="translate(0,526.2) scale(1.16,1)" font-size="16.8" font-weight="bold" stroke="#141414" stroke-width="0.5" fill="#141414">e</text>
<text transform="translate(416,526.2) scale(1.16,1)" font-size="16.8" font-weight="bold" stroke="#141414" stroke-width="0.5" fill="#141414">f</text>
<text transform="translate(760.4,525) scale(1.16,1)" font-size="16.8" font-weight="bold" stroke="#141414" stroke-width="0.5" fill="#141414">g</text>
<rect x="891.3" y="68.6" width="25.8" height="116.4" fill="#FF6A55"/>
<rect x="954.8" y="29.9" width="25.6" height="38.7" fill="#FDBE85"/>
<rect x="1017.9" y="68.6" width="25.8" height="132.3" fill="#FF6568"/>
<line x1="873" y1="16.9" x2="873" y2="213.3" stroke="#222222" stroke-width="1.3"/>
<line x1="872.35" y1="212.7" x2="1062.7" y2="212.7" stroke="#222222" stroke-width="1.3"/>
<line x1="873" y1="68.6" x2="1062.7" y2="68.6" stroke="#222222" stroke-width="1.3"/>
<line x1="873" y1="27.45" x2="878" y2="27.45" stroke="#222222" stroke-width="1.3"/>
<text transform="translate(867.2,32.25) scale(1.04,1)" font-size="14.2" text-anchor="end">1</text>
<text transform="translate(867.2,73.4) scale(1.04,1)" font-size="14.2" text-anchor="end">0</text>
<line x1="873" y1="109.75" x2="878" y2="109.75" stroke="#222222" stroke-width="1.3"/>
<text transform="translate(867.2,114.55) scale(1.04,1)" font-size="14.2" text-anchor="end">−1</text>
<line x1="873" y1="150.9" x2="878" y2="150.9" stroke="#222222" stroke-width="1.3"/>
<text transform="translate(867.2,155.7) scale(1.04,1)" font-size="14.2" text-anchor="end">−2</text>
<line x1="873" y1="192.05" x2="878" y2="192.05" stroke="#222222" stroke-width="1.3"/>
<text transform="translate(867.2,196.85) scale(1.04,1)" font-size="14.2" text-anchor="end">−3</text>
<line x1="903.8" y1="212.7" x2="903.8" y2="207.5" stroke="#222222" stroke-width="1.3"/>
<line x1="967.3" y1="212.7" x2="967.3" y2="207.5" stroke="#222222" stroke-width="1.3"/>
<line x1="1030.9" y1="212.7" x2="1030.9" y2="207.5" stroke="#222222" stroke-width="1.3"/>
<text transform="translate(904,232) scale(1.04,1)" font-size="14.2" text-anchor="middle">Head</text>
<text transform="translate(967.3,232) scale(1.04,1)" font-size="14.2" text-anchor="middle">Tail</text>
<text transform="translate(1028.5,232) scale(1.04,1)" font-size="14.2" text-anchor="middle">Double-</text>
<text transform="translate(1028.5,248.6) scale(1.04,1)" font-size="14.2" text-anchor="middle">end</text>
<text transform="translate(841.5,115.8) rotate(-90) scale(1.04,1)" font-size="14.2" text-anchor="middle">Formation energy (eV)</text>
<line x1="64.5" y1="270.3" x2="64.5" y2="355.6" stroke="#222222" stroke-width="1.3"/>
<line x1="64.5" y1="270.9" x2="70.5" y2="270.9" stroke="#222222" stroke-width="1.3"/>
<line x1="64.5" y1="327.3" x2="70.5" y2="327.3" stroke="#222222" stroke-width="1.3"/>
<line x1="63.85" y1="355" x2="782.95" y2="355" stroke="#222222" stroke-width="1.3"/>
<line x1="208.06" y1="355" x2="208.06" y2="348.7" stroke="#222222" stroke-width="1.3"/>
<line x1="351.62" y1="355" x2="351.62" y2="348.7" stroke="#222222" stroke-width="1.3"/>
<line x1="495.18" y1="355" x2="495.18" y2="348.7" stroke="#222222" stroke-width="1.3"/>
<line x1="638.74" y1="355" x2="638.74" y2="348.7" stroke="#222222" stroke-width="1.3"/>
<line x1="782.3" y1="355" x2="782.3" y2="348.7" stroke="#222222" stroke-width="1.3"/>
<text transform="translate(60.4,275.8) scale(1.04,1)" font-size="14.2" text-anchor="end">100</text>
<text transform="translate(60.4,332.2) scale(1.04,1)" font-size="14.2" text-anchor="end">80</text>
<line x1="64.5" y1="291.5" x2="768" y2="291.5" stroke="#EE5A55" stroke-width="1.1" stroke-dasharray="8.6 7.6"/>
<line x1="64.5" y1="327.1" x2="768" y2="327.1" stroke="#EE5A55" stroke-width="1.45" stroke-dasharray="8.6 7.6"/>
<path d="M774.3 291.5 L766.6 289 L768.6 291.5 L766.6 294Z" stroke="none" stroke-width="1.3" fill="#EE5A55"/>
<path d="M774.3 327.1 L766.6 324.6 L768.6 327.1 L766.6 329.6Z" stroke="none" stroke-width="1.3" fill="#EE5A55"/>
<path d="M64.5 306.5C67.08 306.42 74.29 306.88 80 306C85.71 305.12 92.5 300.79 98.75 301.25C105 301.71 111.25 306.25 117.5 308.75C123.75 311.25 130.42 317.08 136.25 316.25C142.08 315.42 146.88 307.17 152.5 303.75C158.12 300.33 165 296.17 170 295.75C175 295.33 178.12 296.17 182.5 301.25C186.88 306.33 192.08 319.58 196.25 326.25C200.42 332.92 204.17 337.88 207.5 341.25C210.83 344.62 213.33 346.5 216.25 346.5C219.17 346.5 222.29 344.62 225 341.25C227.71 337.88 229.58 332.71 232.5 326.25C235.42 319.79 238.96 307.71 242.5 302.5C246.04 297.29 250 295.42 253.75 295C257.5 294.58 261.04 296.25 265 300C268.96 303.75 273.12 313.04 277.5 317.5C281.88 321.96 287.08 326.12 291.25 326.75C295.42 327.38 298.33 324.04 302.5 321.25C306.67 318.46 311.25 311.38 316.25 310C321.25 308.62 327.71 311.33 332.5 313C337.29 314.67 341.25 318.29 345 320C348.75 321.71 351.67 323.88 355 323.25C358.33 322.62 361.88 319.92 365 316.25C368.12 312.58 371.04 304.42 373.75 301.25C376.46 298.08 378.75 297.04 381.25 297.25C383.75 297.46 386.04 299.12 388.75 302.5C391.46 305.88 394.38 313.54 397.5 317.5C400.62 321.46 404.79 324.67 407.5 326.25C410.21 327.83 410.21 327.83 413.75 327C417.29 326.17 423.54 322.04 428.75 321.25C433.96 320.46 440.21 323.08 445 322.25C449.79 321.42 453.12 318.21 457.5 316.25C461.88 314.29 466.88 311.21 471.25 310.5C475.62 309.79 479.79 312.92 483.75 312C487.71 311.08 491.04 308.25 495 305C498.96 301.75 503.33 295.29 507.5 292.5C511.67 289.71 516.46 288.58 520 288.25C523.54 287.92 525.42 287.71 528.75 290.5C532.08 293.29 536.46 301.25 540 305C543.54 308.75 546.46 311.5 550 313C553.54 314.5 557.08 312.83 561.25 314C565.42 315.17 570.83 318.46 575 320C579.17 321.54 582.92 323.25 586.25 323.25C589.58 323.25 591.46 321.71 595 320C598.54 318.29 603.33 315.08 607.5 313C611.67 310.92 615.83 309.33 620 307.5C624.17 305.67 627.71 303.33 632.5 302C637.29 300.67 644.58 299.5 648.75 299.5C652.92 299.5 653.96 300.46 657.5 302C661.04 303.54 666.25 306.96 670 308.75C673.75 310.54 676.25 312.42 680 312.75C683.75 313.08 688.75 310.67 692.5 310.75C696.25 310.83 698.12 311.71 702.5 313.25C706.88 314.79 713.75 319.5 718.75 320C723.75 320.5 728.12 316.17 732.5 316.25C736.88 316.33 740.83 319.33 745 320.5C749.17 321.67 753.33 323.04 757.5 323.25C761.67 323.46 765.83 322.29 770 321.75C774.17 321.21 780.42 320.29 782.5 320" stroke="#EE5A55" stroke-width="1.45" fill="none" stroke-linejoin="round"/>
<line x1="81.8" y1="267.6" x2="122.8" y2="267.6" stroke="#EE5A55" stroke-width="1.45"/>
<text transform="translate(128.8,274.2) scale(1.08,1)" font-size="14.2">MOPA</text>
<line x1="64.5" y1="370.1" x2="64.5" y2="455.5" stroke="#222222" stroke-width="1.3"/>
<line x1="64.5" y1="370.75" x2="70.5" y2="370.75" stroke="#222222" stroke-width="1.3"/>
<line x1="64.5" y1="427" x2="70.5" y2="427" stroke="#222222" stroke-width="1.3"/>
<line x1="63.85" y1="454.9" x2="782.95" y2="454.9" stroke="#222222" stroke-width="1.3"/>
<line x1="208.06" y1="454.9" x2="208.06" y2="448.6" stroke="#222222" stroke-width="1.3"/>
<line x1="351.62" y1="454.9" x2="351.62" y2="448.6" stroke="#222222" stroke-width="1.3"/>
<line x1="495.18" y1="454.9" x2="495.18" y2="448.6" stroke="#222222" stroke-width="1.3"/>
<line x1="638.74" y1="454.9" x2="638.74" y2="448.6" stroke="#222222" stroke-width="1.3"/>
<line x1="782.3" y1="454.9" x2="782.3" y2="448.6" stroke="#222222" stroke-width="1.3"/>
<text transform="translate(60.4,375.6) scale(1.04,1)" font-size="14.2" text-anchor="end">100</text>
<text transform="translate(60.4,431.9) scale(1.04,1)" font-size="14.2" text-anchor="end">80</text>
<line x1="64.5" y1="380.75" x2="768" y2="380.75" stroke="#d2d2d2" stroke-width="1.1" stroke-dasharray="8.6 7.6"/>
<line x1="64.5" y1="436.75" x2="768" y2="436.75" stroke="#d2d2d2" stroke-width="1.1" stroke-dasharray="8.6 7.6"/>
<path d="M774.3 380.75 L766.6 378.25 L768.6 380.75 L766.6 383.25Z" stroke="none" stroke-width="1.3" fill="#d2d2d2"/>
<path d="M774.3 436.75 L766.6 434.25 L768.6 436.75 L766.6 439.25Z" stroke="none" stroke-width="1.3" fill="#d2d2d2"/>
<path d="M64.5 413.75C65.62 414.88 68.67 418.75 71.25 420.5C73.83 422.25 76.88 424.96 80 424.25C83.12 423.54 86.67 418.62 90 416.25C93.33 413.88 96.67 410.21 100 410C103.33 409.79 106.67 411.46 110 415C113.33 418.54 117.29 427.83 120 431.25C122.71 434.67 123.96 435.71 126.25 435.5C128.54 435.29 131.04 434.67 133.75 430C136.46 425.33 139.58 413.75 142.5 407.5C145.42 401.25 148.96 395.33 151.25 392.5C153.54 389.67 154.38 389.88 156.25 390.5C158.12 391.12 159.79 391.96 162.5 396.25C165.21 400.54 169.17 410.83 172.5 416.25C175.83 421.67 179.58 426.12 182.5 428.75C185.42 431.38 187.08 432 190 432C192.92 432 196.67 431.17 200 428.75C203.33 426.33 206.67 422.71 210 417.5C213.33 412.29 216.67 403.12 220 397.5C223.33 391.88 227.5 386.33 230 383.75C232.5 381.17 233.12 381.58 235 382C236.88 382.42 238.75 382.62 241.25 386.25C243.75 389.88 246.88 397.92 250 403.75C253.12 409.58 256.88 416.67 260 421.25C263.12 425.83 266.46 429.29 268.75 431.25C271.04 433.21 271.88 433.62 273.75 433C275.62 432.38 277.71 430.92 280 427.5C282.29 424.08 284.79 416.88 287.5 412.5C290.21 408.12 292.5 404.08 296.25 401.25C300 398.42 305.62 396.96 310 395.5C314.38 394.04 319.17 393.42 322.5 392.5C325.83 391.58 327.08 391.25 330 390C332.92 388.75 337.5 385.96 340 385C342.5 384.04 343.12 383.62 345 384.25C346.88 384.88 348.75 385.5 351.25 388.75C353.75 392 356.88 398.33 360 403.75C363.12 409.17 367.08 417.21 370 421.25C372.92 425.29 375.42 426.67 377.5 428C379.58 429.33 380.42 430.17 382.5 429.25C384.58 428.33 387.29 425.5 390 422.5C392.71 419.5 396.04 413.71 398.75 411.25C401.46 408.79 403.75 407.75 406.25 407.75C408.75 407.75 411.04 409.12 413.75 411.25C416.46 413.38 419.58 418.08 422.5 420.5C425.42 422.92 428.54 425.42 431.25 425.75C433.96 426.08 436.04 424.92 438.75 422.5C441.46 420.08 444.79 413.75 447.5 411.25C450.21 408.75 452.5 407.5 455 407.5C457.5 407.5 459.58 408.75 462.5 411.25C465.42 413.75 469.17 418.54 472.5 422.5C475.83 426.46 479.38 431.96 482.5 435C485.62 438.04 488.75 440.33 491.25 440.75C493.75 441.17 495.21 440.54 497.5 437.5C499.79 434.46 502.29 428.75 505 422.5C507.71 416.25 510.62 406.67 513.75 400C516.88 393.33 520.62 386.33 523.75 382.5C526.88 378.67 530 377.83 532.5 377C535 376.17 536.25 376.17 538.75 377.5C541.25 378.83 543.96 382.29 547.5 385C551.04 387.71 556.04 391.67 560 393.75C563.96 395.83 568.33 397.29 571.25 397.5C574.17 397.71 574.79 397.29 577.5 395C580.21 392.71 584.58 386.25 587.5 383.75C590.42 381.25 592.71 380.12 595 380C597.29 379.88 598.33 380.5 601.25 383C604.17 385.5 608.75 390.29 612.5 395C616.25 399.71 620.42 407.38 623.75 411.25C627.08 415.12 630 417.62 632.5 418.25C635 418.88 636.25 417.83 638.75 415C641.25 412.17 644.38 404.92 647.5 401.25C650.62 397.58 654.38 393.62 657.5 393C660.62 392.38 662.92 394.58 666.25 397.5C669.58 400.42 673.96 406.83 677.5 410.5C681.04 414.17 684.38 417.5 687.5 419.5C690.62 421.5 693.33 422.62 696.25 422.5C699.17 422.38 701.88 420.21 705 418.75C708.12 417.29 711.67 414.54 715 413.75C718.33 412.96 721.67 414.29 725 414C728.33 413.71 731.67 414.33 735 412C738.33 409.67 741.67 404.5 745 400C748.33 395.5 751.67 388.42 755 385C758.33 381.58 762.29 380.33 765 379.5C767.71 378.67 769.17 379.08 771.25 380C773.33 380.92 775.62 383.12 777.5 385C779.38 386.88 781.67 390.21 782.5 391.25" stroke="#7d7d7d" stroke-width="1.35" fill="none" stroke-linejoin="round"/>
<line x1="81.8" y1="368" x2="122.8" y2="368" stroke="#7d7d7d" stroke-width="1.35"/>
<text transform="translate(128.8,374.6) scale(1.06,1)" font-size="14.2">W/O MOPA</text>
<text transform="translate(64.5,473.6) scale(1.04,1)" font-size="14.2" text-anchor="middle">0</text>
<text transform="translate(208.06,473.6) scale(1.04,1)" font-size="14.2" text-anchor="middle">1,000</text>
<text transform="translate(351.62,473.6) scale(1.04,1)" font-size="14.2" text-anchor="middle">2,000</text>
<text transform="translate(495.18,473.6) scale(1.04,1)" font-size="14.2" text-anchor="middle">3,000</text>
<text transform="translate(638.74,473.6) scale(1.04,1)" font-size="14.2" text-anchor="middle">4,000</text>
<text transform="translate(782.3,473.6) scale(1.04,1)" font-size="14.2" text-anchor="middle">5,000</text>
<text transform="translate(422,492) scale(1.04,1)" font-size="14.2" text-anchor="middle">Time (fs)</text>
<text transform="translate(12,356.5) rotate(-90) scale(1.04,1)" font-size="14.2" text-anchor="middle">Bond angle (°)</text>
<rect x="915.3" y="303.4" width="27.5" height="170.1" fill="#C9C9C9"/>
<rect x="993.3" y="359" width="27.3" height="114.5" fill="#FF3A3A"/>
<line x1="873.4" y1="266.7" x2="873.4" y2="474.1" stroke="#222222" stroke-width="1.3"/>
<line x1="872.75" y1="473.5" x2="1062.7" y2="473.5" stroke="#222222" stroke-width="1.3"/>
<text transform="translate(867.3,478.3) scale(1.04,1)" font-size="14.2" text-anchor="end">0</text>
<line x1="873.4" y1="444.03" x2="876" y2="444.03" stroke="#222222" stroke-width="1.3"/>
<line x1="873.4" y1="414.56" x2="877.9" y2="414.56" stroke="#222222" stroke-width="1.3"/>
<text transform="translate(867.3,419.36) scale(1.04,1)" font-size="14.2" text-anchor="end">2</text>
<line x1="873.4" y1="385.09" x2="876" y2="385.09" stroke="#222222" stroke-width="1.3"/>
<line x1="873.4" y1="355.62" x2="877.9" y2="355.62" stroke="#222222" stroke-width="1.3"/>
<text transform="translate(867.3,360.42) scale(1.04,1)" font-size="14.2" text-anchor="end">4</text>
<line x1="873.4" y1="326.15" x2="876" y2="326.15" stroke="#222222" stroke-width="1.3"/>
<line x1="873.4" y1="296.68" x2="877.9" y2="296.68" stroke="#222222" stroke-width="1.3"/>
<text transform="translate(867.3,301.48) scale(1.04,1)" font-size="14.2" text-anchor="end">6</text>
<line x1="873.4" y1="267.21" x2="876" y2="267.21" stroke="#222222" stroke-width="1.3"/>
<text transform="translate(928,494.6) scale(1.08,1)" font-size="14.2" text-anchor="middle">W/O MOPA</text>
<text transform="translate(1007,494.6) scale(1.08,1)" font-size="14.2" text-anchor="middle">MOPA</text>
<text transform="translate(841.8,369) rotate(-90) scale(1.06,1)" font-size="14.2" text-anchor="middle">Standard deviation (°)</text>
<path d="M71.2 802.77L72.1 802.75L73.01 802.73L73.91 802.72L74.82 802.7L75.72 802.68L76.63 802.66L77.53 802.63L78.44 802.61L79.34 802.59L80.25 802.56L81.15 802.53L82.05 802.49L82.96 802.45L83.86 802.4L84.77 802.34L85.67 802.28L86.58 802.21L87.48 802.14L88.39 802.06L89.29 801.98L90.19 801.9L91.1 801.81L92 801.72L92.91 801.63L93.81 801.53L94.72 801.43L95.62 801.33L96.53 801.22L97.43 801.11L98.34 800.99L99.24 800.86L100.14 800.73L101.05 800.59L101.95 800.44L102.86 800.28L103.76 800.12L104.67 799.94L105.57 799.75L106.48 799.55L107.38 799.34L108.28 799.12L109.19 798.89L110.09 798.64L111 798.38L111.9 798.1L112.81 797.78L113.71 797.39L114.62 796.94L115.52 796.42L116.43 795.84L117.33 795.21L118.23 794.53L119.14 793.8L120.04 793.03L120.95 792.22L121.85 791.36L122.76 790.48L123.66 789.47L124.57 788.31L125.47 787.03L126.37 785.63L127.28 784.12L128.18 782.51L129.09 780.81L129.99 779.04L130.9 777.14L131.8 774.95L132.71 772.52L133.61 769.92L134.51 767.12L135.42 764.08L136.32 760.85L137.23 757.47L138.13 754L139.04 750.46L139.94 746.85L140.85 743.15L141.75 739.36L142.66 735.49L143.56 731.54L144.46 727.49L145.37 723.36L146.27 719.14L147.18 714.82L148.08 710.42L148.99 705.91L149.89 701.3L150.8 696.54L151.7 691.65L152.61 686.63L153.51 681.49L154.41 676.23L155.32 670.86L156.22 665.4L157.13 659.84L158.03 654.19L158.94 648.46L159.84 642.66L160.75 636.67L161.65 630.31L162.55 623.89L163.46 617.31L164.36 611L165.27 605.38L166.17 600.06L167.08 594.96L167.98 590.23L168.89 586.03L169.79 582.5L170.69 579.34L171.6 576.17L172.5 573.05L173.41 570.06L174.31 567.25L175.22 564.7L176.12 562.46L177.03 560.61L177.93 559.2L178.84 558.31L179.74 558L180.64 558.35L181.55 559.33L182.45 560.88L183.36 562.92L184.26 565.37L185.17 568.15L186.07 571.2L186.98 574.44L187.88 577.78L188.78 581.16L189.69 584.73L190.59 589.28L191.5 594.51L192.4 600.04L193.31 605.45L194.21 610.53L195.12 615.57L196.02 620.65L196.93 625.85L197.83 631.25L198.73 636.94L199.64 642.55L200.54 648.18L201.45 653.89L202.35 659.63L203.26 665.38L204.16 671.08L205.07 676.7L205.97 682.21L206.88 687.57L207.78 692.73L208.68 697.67L209.59 702.34L210.49 706.72L211.4 710.94L212.3 715.03L213.21 719L214.11 722.85L215.02 726.6L215.92 730.24L216.82 733.79L217.73 737.24L218.63 740.61L219.54 743.91L220.44 747.13L221.35 750.29L222.25 753.39L223.16 756.42L224.06 759.35L224.96 762.17L225.87 764.88L226.77 767.47L227.68 769.92L228.58 772.34L229.49 774.7L230.39 776.81L231.3 778.5L232.2 779.89L233.11 781.22L234.01 782.49L234.91 783.69L235.82 784.82L236.72 785.88L237.63 786.86L238.53 787.75L239.44 788.55L240.34 789.27L241.25 789.89L242.15 790.41L243.06 790.83L243.96 791.19L244.86 791.53L245.77 791.85L246.67 792.15L247.58 792.43L248.48 792.69L249.39 792.93L250.29 793.16L251.2 793.37L252.1 793.57L253 793.76L253.91 793.94L254.81 794.12L255.72 794.28L256.62 794.45L257.53 794.61L258.43 794.77L259.34 794.93L260.24 795.09L261.14 795.25L262.05 795.42L262.95 795.6L263.86 795.78L264.76 795.98L265.67 796.18L266.57 796.4L267.48 796.63L268.38 796.88L269.29 797.15L270.19 797.47L271.09 797.81L272 798.16L272.9 798.5L273.81 798.82L274.71 799.1L275.62 799.33L276.52 799.5L277.43 799.62L278.33 799.74L279.24 799.85L280.14 799.96L281.04 800.06L281.95 800.16L282.85 800.25L283.76 800.34L284.66 800.42L285.57 800.5L286.47 800.57L287.38 800.64L288.28 800.71L289.18 800.77L290.09 800.83L290.99 800.88L291.9 800.93L292.8 800.98L293.71 801.03L294.61 801.07L295.52 801.11L296.42 801.15L297.32 801.19L298.23 801.22L299.13 801.26L300.04 801.29L300.94 801.32L301.85 801.36L302.75 801.39L303.66 801.42L304.56 801.45L305.47 801.48L306.37 801.51L307.27 801.54L308.18 801.57L309.08 801.59L309.99 801.62L310.89 801.65L311.8 801.67L312.7 801.7L313.61 801.72L314.51 801.75L315.42 801.77L316.32 801.79L317.22 801.82L318.13 801.84L319.03 801.86L319.94 801.88L320.84 801.9L321.75 801.92L322.65 801.94L323.56 801.96L324.46 801.98L325.36 802L326.27 802.01L327.17 802.03L328.08 802.05L328.98 802.06L329.89 802.08L330.79 802.1L331.7 802.11L332.6 802.13L333.5 802.14L334.41 802.15L335.31 802.17L336.22 802.18L337.12 802.19L338.03 802.21L338.93 802.22L339.84 802.23L340.74 802.24L341.65 802.25L342.55 802.26L343.45 802.28L344.36 802.29L345.26 802.3L346.17 802.31L347.07 802.32L347.98 802.33L348.88 802.34L349.79 802.35L350.69 802.36L351.59 802.37L352.5 802.38L353.4 802.39L354.31 802.4L355.21 802.4L356.12 802.41L357.02 802.42L357.93 802.43L358.83 802.44L359.74 802.45L360.64 802.46L361.54 802.46L362.45 802.47L363.35 802.48L364.26 802.49L365.16 802.49L366.07 802.5L366.97 802.51L367.88 802.52L368.78 802.52L369.69 802.53L370.59 802.54L371.49 802.54L372.4 802.55L373.3 802.55L374.21 802.56L375.11 802.57L376.02 802.57L376.92 802.58L377.83 802.58L378.73 802.59L379.63 802.59L380.54 802.6L381.44 802.6L382.35 802.61L383.25 802.61L384.16 802.62L385.06 802.62L385.97 802.62L386.87 802.63L387.77 802.63" stroke="#F4877F" stroke-width="1.3" fill="none" stroke-linejoin="round"/>
<path d="M71.2 802.88L72.1 802.87L73.01 802.86L73.91 802.85L74.82 802.84L75.72 802.83L76.63 802.82L77.53 802.81L78.44 802.8L79.34 802.78L80.25 802.77L81.15 802.75L82.05 802.73L82.96 802.72L83.86 802.7L84.77 802.68L85.67 802.66L86.58 802.63L87.48 802.61L88.39 802.59L89.29 802.56L90.19 802.53L91.1 802.49L92 802.45L92.91 802.4L93.81 802.34L94.72 802.28L95.62 802.21L96.53 802.13L97.43 802.06L98.34 801.98L99.24 801.89L100.14 801.81L101.05 801.72L101.95 801.62L102.86 801.53L103.76 801.43L104.67 801.34L105.57 801.23L106.48 801.13L107.38 801.02L108.28 800.9L109.19 800.78L110.09 800.65L111 800.51L111.9 800.37L112.81 800.21L113.71 800.05L114.62 799.88L115.52 799.7L116.43 799.51L117.33 799.31L118.23 799.09L119.14 798.86L120.04 798.62L120.95 798.37L121.85 798.1L122.76 797.78L123.66 797.38L124.57 796.91L125.47 796.37L126.37 795.76L127.28 795.1L128.18 794.39L129.09 793.64L129.99 792.85L130.9 792.03L131.8 791.18L132.71 790.31L133.61 789.37L134.51 788.34L135.42 787.23L136.32 786.02L137.23 784.72L138.13 783.33L139.04 781.82L139.94 780.22L140.85 778.5L141.75 776.49L142.66 774.08L143.56 771.37L144.46 768.38L145.37 764.91L146.27 761.08L147.18 757.12L148.08 753.24L148.99 749.44L149.89 745.69L150.8 741.94L151.7 738.18L152.61 734.39L153.51 730.55L154.41 726.62L155.32 722.59L156.22 718.44L157.13 714.14L158.03 709.66L158.94 705L159.84 700.05L160.75 694.79L161.65 689.25L162.55 683.48L163.46 677.54L164.36 671.47L165.27 665.33L166.17 659.15L167.08 652.99L167.98 646.89L168.89 640.91L169.79 635.05L170.69 629.05L171.6 622.51L172.5 615.69L173.41 609.29L174.31 603.74L175.22 598.43L176.12 593.41L177.03 588.84L177.93 584.86L178.84 581.57L179.74 578.46L180.64 575.37L181.55 572.35L182.45 569.46L183.36 566.78L184.26 564.34L185.17 562.21L186.07 560.46L186.98 559.13L187.88 558.29L188.78 558L189.69 558.33L190.59 559.29L191.5 560.8L192.4 562.79L193.31 565.19L194.21 567.92L195.12 570.92L196.02 574.12L196.93 577.44L197.83 580.82L198.73 584.34L199.64 588.85L200.54 594.13L201.45 599.78L202.35 605.38L203.26 610.74L204.16 616.16L205.07 621.69L205.97 627.33L206.88 633.12L207.78 639.11L208.68 645.32L209.59 651.86L210.49 658.63L211.4 665.53L212.3 672.43L213.21 679.22L214.11 685.79L215.02 692.03L215.92 697.84L216.82 703.08L217.73 707.75L218.63 712.14L219.54 716.31L220.44 720.28L221.35 724.08L222.25 727.72L223.16 731.23L224.06 734.63L224.96 737.95L225.87 741.2L226.77 744.41L227.68 747.6L228.58 750.79L229.49 754L230.39 757.22L231.3 760.4L232.2 763.47L233.11 766.41L234.01 769.15L234.91 771.73L235.82 774.24L236.72 776.51L237.63 778.35L238.53 779.81L239.44 781.2L240.34 782.51L241.25 783.75L242.15 784.91L243.06 785.98L243.96 786.97L244.86 787.88L245.77 788.7L246.67 789.43L247.58 790.06L248.48 790.61L249.39 791.07L250.29 791.49L251.2 791.89L252.1 792.26L253 792.6L253.91 792.92L254.81 793.22L255.72 793.5L256.62 793.77L257.53 794.02L258.43 794.26L259.34 794.49L260.24 794.72L261.14 794.94L262.05 795.16L262.95 795.38L263.86 795.61L264.76 795.84L265.67 796.08L266.57 796.33L267.48 796.6L268.38 796.88L269.29 797.18L270.19 797.51L271.09 797.85L272 798.2L272.9 798.53L273.81 798.84L274.71 799.11L275.62 799.33L276.52 799.5L277.43 799.62L278.33 799.74L279.24 799.85L280.14 799.96L281.04 800.06L281.95 800.16L282.85 800.25L283.76 800.34L284.66 800.42L285.57 800.5L286.47 800.57L287.38 800.64L288.28 800.71L289.18 800.77L290.09 800.83L290.99 800.88L291.9 800.93L292.8 800.98L293.71 801.03L294.61 801.07L295.52 801.11L296.42 801.15L297.32 801.19L298.23 801.22L299.13 801.26L300.04 801.29L300.94 801.32L301.85 801.36L302.75 801.39L303.66 801.42L304.56 801.45L305.47 801.48L306.37 801.51L307.27 801.54L308.18 801.57L309.08 801.59L309.99 801.62L310.89 801.65L311.8 801.67L312.7 801.7L313.61 801.72L314.51 801.75L315.42 801.77L316.32 801.79L317.22 801.82L318.13 801.84L319.03 801.86L319.94 801.88L320.84 801.9L321.75 801.92L322.65 801.94L323.56 801.96L324.46 801.98L325.36 802L326.27 802.01L327.17 802.03L328.08 802.05L328.98 802.06L329.89 802.08L330.79 802.1L331.7 802.11L332.6 802.13L333.5 802.14L334.41 802.15L335.31 802.17L336.22 802.18L337.12 802.19L338.03 802.21L338.93 802.22L339.84 802.23L340.74 802.24L341.65 802.25L342.55 802.26L343.45 802.28L344.36 802.29L345.26 802.3L346.17 802.31L347.07 802.32L347.98 802.33L348.88 802.34L349.79 802.35L350.69 802.36L351.59 802.37L352.5 802.38L353.4 802.39L354.31 802.4L355.21 802.4L356.12 802.41L357.02 802.42L357.93 802.43L358.83 802.44L359.74 802.45L360.64 802.46L361.54 802.46L362.45 802.47L363.35 802.48L364.26 802.49L365.16 802.49L366.07 802.5L366.97 802.51L367.88 802.52L368.78 802.52L369.69 802.53L370.59 802.54L371.49 802.54L372.4 802.55L373.3 802.55L374.21 802.56L375.11 802.57L376.02 802.57L376.92 802.58L377.83 802.58L378.73 802.59L379.63 802.59L380.54 802.6L381.44 802.6L382.35 802.61L383.25 802.61L384.16 802.62L385.06 802.62L385.97 802.62L386.87 802.63L387.77 802.63" stroke="#EE504C" stroke-width="1.3" fill="none" stroke-linejoin="round"/>
<path d="M71.2 802.93L72.1 802.93L73.01 802.92L73.91 802.92L74.82 802.91L75.72 802.91L76.63 802.9L77.53 802.9L78.44 802.89L79.34 802.88L80.25 802.88L81.15 802.87L82.05 802.86L82.96 802.85L83.86 802.84L84.77 802.83L85.67 802.82L86.58 802.81L87.48 802.8L88.39 802.78L89.29 802.77L90.19 802.75L91.1 802.73L92 802.72L92.91 802.7L93.81 802.68L94.72 802.66L95.62 802.63L96.53 802.61L97.43 802.59L98.34 802.56L99.24 802.53L100.14 802.49L101.05 802.45L101.95 802.4L102.86 802.34L103.76 802.28L104.67 802.21L105.57 802.14L106.48 802.06L107.38 801.98L108.28 801.9L109.19 801.81L110.09 801.72L111 801.63L111.9 801.53L112.81 801.43L113.71 801.32L114.62 801.2L115.52 801.08L116.43 800.94L117.33 800.8L118.23 800.65L119.14 800.49L120.04 800.32L120.95 800.15L121.85 799.96L122.76 799.76L123.66 799.56L124.57 799.34L125.47 799.11L126.37 798.88L127.28 798.63L128.18 798.37L129.09 798.1L129.99 797.8L130.9 797.46L131.8 797.08L132.71 796.66L133.61 796.2L134.51 795.71L135.42 795.19L136.32 794.63L137.23 794.05L138.13 793.43L139.04 792.8L139.94 792.13L140.85 791.45L141.75 790.75L142.66 790.01L143.56 789.23L144.46 788.39L145.37 787.49L146.27 786.53L147.18 785.5L148.08 784.41L148.99 783.24L149.89 781.99L150.8 780.66L151.7 779.24L152.61 777.69L153.51 775.8L154.41 773.6L155.32 771.19L156.22 768.6L157.13 765.7L158.03 762.52L158.94 759.16L159.84 755.72L160.75 752.29L161.65 748.89L162.55 745.49L163.46 742.07L164.36 738.61L165.27 735.08L166.17 731.45L167.08 727.72L167.98 723.84L168.89 719.8L169.79 715.57L170.69 711.13L171.6 706.45L172.5 701.45L173.41 695.96L174.31 690.03L175.22 683.72L176.12 677.11L177.03 670.26L177.93 663.23L178.84 656.09L179.74 648.91L180.64 641.74L181.55 634.44L182.45 626.64L183.36 618.04L184.26 609.82L185.17 603.12L186.07 596.98L186.98 591.39L187.88 586.51L188.78 582.5L189.69 578.97L190.59 575.45L191.5 572.04L192.4 568.81L193.31 565.85L194.21 563.25L195.12 561.08L196.02 559.42L196.93 558.37L197.83 558L198.73 558.42L199.64 559.6L200.54 561.45L201.45 563.88L202.35 566.8L203.26 570.09L204.16 573.68L205.07 577.46L205.97 581.33L206.88 585.67L207.78 591.46L208.68 598.12L209.59 604.99L210.49 611.74L211.4 618.82L212.3 626.12L213.21 633.55L214.11 641.05L215.02 648.47L215.92 656.02L216.82 663.6L217.73 671.11L218.63 678.44L219.54 685.5L220.44 692.17L221.35 698.36L222.25 703.96L223.16 709L224.06 713.74L224.96 718.2L225.87 722.44L226.77 726.48L227.68 730.35L228.58 734.1L229.49 737.76L230.39 741.36L231.3 744.93L232.2 748.52L233.11 752.15L234.01 755.89L234.91 759.77L235.82 763.57L236.72 767.04L237.63 769.92L238.53 772.3L239.44 774.41L240.34 776.27L241.25 777.9L242.15 779.36L243.06 780.76L243.96 782.12L244.86 783.42L245.77 784.65L246.67 785.81L247.58 786.9L248.48 787.89L249.39 788.8L250.29 789.6L251.2 790.28L252.1 790.86L253 791.36L253.91 791.83L254.81 792.27L255.72 792.67L256.62 793.05L257.53 793.41L258.43 793.74L259.34 794.05L260.24 794.35L261.14 794.64L262.05 794.92L262.95 795.19L263.86 795.46L264.76 795.73L265.67 796L266.57 796.28L267.48 796.57L268.38 796.88L269.29 797.2L270.19 797.54L271.09 797.88L272 798.22L272.9 798.55L273.81 798.85L274.71 799.12L275.62 799.34L276.52 799.5L277.43 799.62L278.33 799.74L279.24 799.85L280.14 799.96L281.04 800.06L281.95 800.16L282.85 800.25L283.76 800.34L284.66 800.42L285.57 800.5L286.47 800.57L287.38 800.64L288.28 800.71L289.18 800.77L290.09 800.83L290.99 800.88L291.9 800.93L292.8 800.98L293.71 801.03L294.61 801.07L295.52 801.11L296.42 801.15L297.32 801.19L298.23 801.22L299.13 801.26L300.04 801.29L300.94 801.32L301.85 801.36L302.75 801.39L303.66 801.42L304.56 801.45L305.47 801.48L306.37 801.51L307.27 801.54L308.18 801.57L309.08 801.59L309.99 801.62L310.89 801.65L311.8 801.67L312.7 801.7L313.61 801.72L314.51 801.75L315.42 801.77L316.32 801.79L317.22 801.82L318.13 801.84L319.03 801.86L319.94 801.88L320.84 801.9L321.75 801.92L322.65 801.94L323.56 801.96L324.46 801.98L325.36 802L326.27 802.01L327.17 802.03L328.08 802.05L328.98 802.06L329.89 802.08L330.79 802.1L331.7 802.11L332.6 802.13L333.5 802.14L334.41 802.15L335.31 802.17L336.22 802.18L337.12 802.19L338.03 802.21L338.93 802.22L339.84 802.23L340.74 802.24L341.65 802.25L342.55 802.26L343.45 802.28L344.36 802.29L345.26 802.3L346.17 802.31L347.07 802.32L347.98 802.33L348.88 802.34L349.79 802.35L350.69 802.36L351.59 802.37L352.5 802.38L353.4 802.39L354.31 802.4L355.21 802.4L356.12 802.41L357.02 802.42L357.93 802.43L358.83 802.44L359.74 802.45L360.64 802.46L361.54 802.46L362.45 802.47L363.35 802.48L364.26 802.49L365.16 802.49L366.07 802.5L366.97 802.51L367.88 802.52L368.78 802.52L369.69 802.53L370.59 802.54L371.49 802.54L372.4 802.55L373.3 802.55L374.21 802.56L375.11 802.57L376.02 802.57L376.92 802.58L377.83 802.58L378.73 802.59L379.63 802.59L380.54 802.6L381.44 802.6L382.35 802.61L383.25 802.61L384.16 802.62L385.06 802.62L385.97 802.62L386.87 802.63L387.77 802.63" stroke="#E62A27" stroke-width="1.3" fill="none" stroke-linejoin="round"/>
<path d="M71.2 802.97L72.1 802.96L73.01 802.96L73.91 802.96L74.82 802.95L75.72 802.95L76.63 802.95L77.53 802.94L78.44 802.94L79.34 802.93L80.25 802.93L81.15 802.93L82.05 802.92L82.96 802.92L83.86 802.91L84.77 802.91L85.67 802.9L86.58 802.9L87.48 802.89L88.39 802.88L89.29 802.88L90.19 802.87L91.1 802.86L92 802.85L92.91 802.84L93.81 802.83L94.72 802.82L95.62 802.81L96.53 802.8L97.43 802.78L98.34 802.77L99.24 802.75L100.14 802.73L101.05 802.72L101.95 802.7L102.86 802.68L103.76 802.66L104.67 802.63L105.57 802.61L106.48 802.59L107.38 802.56L108.28 802.53L109.19 802.49L110.09 802.45L111 802.4L111.9 802.35L112.81 802.29L113.71 802.22L114.62 802.15L115.52 802.07L116.43 801.99L117.33 801.91L118.23 801.82L119.14 801.73L120.04 801.63L120.95 801.53L121.85 801.42L122.76 801.3L123.66 801.17L124.57 801.03L125.47 800.87L126.37 800.7L127.28 800.52L128.18 800.33L129.09 800.12L129.99 799.91L130.9 799.68L131.8 799.45L132.71 799.2L133.61 798.94L134.51 798.67L135.42 798.39L136.32 798.1L137.23 797.78L138.13 797.43L139.04 797.04L139.94 796.61L140.85 796.15L141.75 795.66L142.66 795.13L143.56 794.58L144.46 794L145.37 793.39L146.27 792.76L147.18 792.11L148.08 791.44L148.99 790.75L149.89 790.03L150.8 789.28L151.7 788.48L152.61 787.64L153.51 786.74L154.41 785.78L155.32 784.76L156.22 783.67L157.13 782.5L158.03 781.25L158.94 779.92L159.84 778.5L160.75 776.81L161.65 774.75L162.55 772.42L163.46 769.92L164.36 767.19L165.27 764.13L166.17 760.85L167.08 757.44L167.98 754L168.89 750.58L169.79 747.16L170.69 743.71L171.6 740.23L172.5 736.7L173.41 733.09L174.31 729.4L175.22 725.6L176.12 721.69L177.03 717.64L177.93 713.45L178.84 709.08L179.74 704.54L180.64 699.76L181.55 694.73L182.45 689.47L183.36 683.98L184.26 678.28L185.17 672.39L186.07 666.3L186.98 660.04L187.88 653.61L188.78 647.04L189.69 640.32L190.59 632.87L191.5 625.27L192.4 617.6L193.31 610.31L194.21 603.84L195.12 597.62L196.02 591.79L196.93 586.65L197.83 582.5L198.73 578.94L199.64 575.41L200.54 571.99L201.45 568.76L202.35 565.81L203.26 563.22L204.16 561.06L205.07 559.41L205.97 558.37L206.88 558L207.78 558.37L208.68 559.43L209.59 561.1L210.49 563.3L211.4 565.96L212.3 568.99L213.21 572.31L214.11 575.84L215.02 579.52L215.92 583.29L216.82 588.33L217.73 594.59L218.63 601.28L219.54 607.6L220.44 613.48L221.35 619.33L222.25 625.32L223.16 631.63L224.06 638.31L224.96 645.05L225.87 652.01L226.77 659.14L227.68 666.32L228.58 673.46L229.49 680.46L230.39 687.21L231.3 693.62L232.2 699.58L233.11 705L234.01 709.97L234.91 714.68L235.82 719.17L236.72 723.45L237.63 727.56L238.53 731.54L239.44 735.39L240.34 739.17L241.25 742.89L242.15 746.58L243.06 750.27L243.96 754L244.86 757.78L245.77 761.54L246.67 765.13L247.58 768.43L248.48 771.35L249.39 774.07L250.29 776.51L251.2 778.5L252.1 780.17L253 781.74L253.91 783.2L254.81 784.56L255.72 785.82L256.62 786.99L257.53 788.06L258.43 789.04L259.34 789.94L260.24 790.75L261.14 791.49L262.05 792.18L262.95 792.83L263.86 793.43L264.76 793.99L265.67 794.53L266.57 795.03L267.48 795.51L268.38 795.98L269.29 796.43L270.19 796.88L271.09 797.33L272 797.79L272.9 798.24L273.81 798.65L274.71 799.01L275.62 799.3L276.52 799.5L277.43 799.63L278.33 799.76L279.24 799.88L280.14 799.99L281.04 800.1L281.95 800.2L282.85 800.29L283.76 800.38L284.66 800.46L285.57 800.54L286.47 800.61L287.38 800.67L288.28 800.73L289.18 800.79L290.09 800.85L290.99 800.9L291.9 800.95L292.8 800.99L293.71 801.03L294.61 801.07L295.52 801.11L296.42 801.15L297.32 801.19L298.23 801.22L299.13 801.26L300.04 801.29L300.94 801.32L301.85 801.36L302.75 801.39L303.66 801.42L304.56 801.45L305.47 801.48L306.37 801.51L307.27 801.54L308.18 801.57L309.08 801.59L309.99 801.62L310.89 801.65L311.8 801.67L312.7 801.7L313.61 801.72L314.51 801.75L315.42 801.77L316.32 801.79L317.22 801.82L318.13 801.84L319.03 801.86L319.94 801.88L320.84 801.9L321.75 801.92L322.65 801.94L323.56 801.96L324.46 801.98L325.36 802L326.27 802.01L327.17 802.03L328.08 802.05L328.98 802.06L329.89 802.08L330.79 802.1L331.7 802.11L332.6 802.13L333.5 802.14L334.41 802.15L335.31 802.17L336.22 802.18L337.12 802.19L338.03 802.21L338.93 802.22L339.84 802.23L340.74 802.24L341.65 802.25L342.55 802.26L343.45 802.28L344.36 802.29L345.26 802.3L346.17 802.31L347.07 802.32L347.98 802.33L348.88 802.34L349.79 802.35L350.69 802.36L351.59 802.37L352.5 802.38L353.4 802.39L354.31 802.4L355.21 802.4L356.12 802.41L357.02 802.42L357.93 802.43L358.83 802.44L359.74 802.45L360.64 802.46L361.54 802.46L362.45 802.47L363.35 802.48L364.26 802.49L365.16 802.49L366.07 802.5L366.97 802.51L367.88 802.52L368.78 802.52L369.69 802.53L370.59 802.54L371.49 802.54L372.4 802.55L373.3 802.55L374.21 802.56L375.11 802.57L376.02 802.57L376.92 802.58L377.83 802.58L378.73 802.59L379.63 802.59L380.54 802.6L381.44 802.6L382.35 802.61L383.25 802.61L384.16 802.62L385.06 802.62L385.97 802.62L386.87 802.63L387.77 802.63" stroke="#D81E1E" stroke-width="1.3" fill="none" stroke-linejoin="round"/>
<line x1="71.2" y1="532.7" x2="71.2" y2="816.3" stroke="#222222" stroke-width="1.3"/>
<line x1="70.55" y1="815.7" x2="388.5" y2="815.7" stroke="#222222" stroke-width="1.3"/>
<line x1="71.2" y1="803" x2="76.2" y2="803" stroke="#222222" stroke-width="1.3"/>
<text transform="translate(64.5,807.7) scale(1.04,1)" font-size="14.2" text-anchor="end">0</text>
<line x1="71.2" y1="754" x2="76.2" y2="754" stroke="#222222" stroke-width="1.3"/>
<text transform="translate(64.5,758.7) scale(1.04,1)" font-size="14.2" text-anchor="end">0.2</text>
<line x1="71.2" y1="705" x2="76.2" y2="705" stroke="#222222" stroke-width="1.3"/>
<text transform="translate(64.5,709.7) scale(1.04,1)" font-size="14.2" text-anchor="end">0.4</text>
<line x1="71.2" y1="656" x2="76.2" y2="656" stroke="#222222" stroke-width="1.3"/>
<text transform="translate(64.5,660.7) scale(1.04,1)" font-size="14.2" text-anchor="end">0.6</text>
<line x1="71.2" y1="607" x2="76.2" y2="607" stroke="#222222" stroke-width="1.3"/>
<text transform="translate(64.5,611.7) scale(1.04,1)" font-size="14.2" text-anchor="end">0.8</text>
<line x1="71.2" y1="558" x2="76.2" y2="558" stroke="#222222" stroke-width="1.3"/>
<text transform="translate(64.5,562.7) scale(1.04,1)" font-size="14.2" text-anchor="end">1.0</text>
<text transform="translate(71.2,835) scale(1.04,1)" font-size="14.2" text-anchor="middle">500</text>
<line x1="116.43" y1="815.7" x2="116.43" y2="810.5" stroke="#222222" stroke-width="1.3"/>
<text transform="translate(116.43,835) scale(1.04,1)" font-size="14.2" text-anchor="middle">550</text>
<line x1="161.65" y1="815.7" x2="161.65" y2="810.5" stroke="#222222" stroke-width="1.3"/>
<text transform="translate(161.65,835) scale(1.04,1)" font-size="14.2" text-anchor="middle">600</text>
<line x1="206.88" y1="815.7" x2="206.88" y2="810.5" stroke="#222222" stroke-width="1.3"/>
<text transform="translate(206.88,835) scale(1.04,1)" font-size="14.2" text-anchor="middle">650</text>
<line x1="252.1" y1="815.7" x2="252.1" y2="810.5" stroke="#222222" stroke-width="1.3"/>
<text transform="translate(252.1,835) scale(1.04,1)" font-size="14.2" text-anchor="middle">700</text>
<line x1="297.32" y1="815.7" x2="297.32" y2="810.5" stroke="#222222" stroke-width="1.3"/>
<text transform="translate(297.32,835) scale(1.04,1)" font-size="14.2" text-anchor="middle">750</text>
<line x1="342.55" y1="815.7" x2="342.55" y2="810.5" stroke="#222222" stroke-width="1.3"/>
<text transform="translate(342.55,835) scale(1.04,1)" font-size="14.2" text-anchor="middle">800</text>
<line x1="387.77" y1="815.7" x2="387.77" y2="810.5" stroke="#222222" stroke-width="1.3"/>
<text transform="translate(387.77,835) scale(1.04,1)" font-size="14.2" text-anchor="middle">850</text>
<text transform="translate(226.8,858) scale(1.04,1)" font-size="14.2" text-anchor="middle">Wavelength (nm)</text>
<text transform="translate(12,673) rotate(-90) scale(1.06,1)" font-size="14.2" text-anchor="middle">Normalized photoluminescence</text>
<text transform="translate(29.7,672.6) rotate(-90) scale(1.04,1)" font-size="14.2" text-anchor="middle">intensity (a.u.)</text>
<text transform="translate(115,551.3) scale(1.04,1)" font-size="14.2">620 nm</text>
<text transform="translate(218.8,551.3) scale(1.04,1)" font-size="14.2">650 nm</text>
<line x1="209.5" y1="545" x2="183" y2="545" stroke="#222222" stroke-width="1.1"/>
<path d="M177.5 545L185.5 542.2L183.8 545L185.5 547.8Z" stroke="none" stroke-width="1.3" fill="#222222"/>
<path d="M277.53 598.76L292.77 593.95L306.94 605.44L301.32 620.14L285.28 625.49L272.72 614.8Z" stroke="#222222" stroke-width="0.9" fill="none" stroke-linejoin="round"/>
<line x1="292.78" y1="597.66" x2="302.75" y2="605.75" stroke="#222222" stroke-width="0.9"/>
<line x1="298.17" y1="618.32" x2="286.88" y2="622.09" stroke="#222222" stroke-width="0.9"/>
<line x1="276.29" y1="613.02" x2="279.68" y2="601.73" stroke="#222222" stroke-width="0.9"/>
<path d="M306.94 605.44L321.64 601.43L336.07 613.46L351.58 609.72" stroke="#222222" stroke-width="0.9" fill="none" stroke-linejoin="round"/>
<text transform="translate(354.78,612.66) scale(1.05,1)" font-size="10">NH</text>
<text transform="translate(370.08,615.26) scale(1.05,1)" font-size="6.5">3</text>
<text transform="translate(374.38,609.86) scale(1.05,1)" font-size="6.5">+</text>
<path d="M285.28 625.49L283.41 636.72" stroke="#222222" stroke-width="0.9" fill="none" stroke-linejoin="round"/>
<path d="M278.87 642.6L267.38 648.21" stroke="#222222" stroke-width="0.9" fill="none" stroke-linejoin="round"/>
<text transform="translate(279.4,645) scale(1.05,1)" font-size="10">O</text>
<text transform="translate(312,589.4) scale(1.07,1)" font-size="14.2">MOPA</text>
<path d="M278.6 674.41L293.57 669.6L306.94 681.63L301.32 695.79L286.09 701.14L273.52 690.18Z" stroke="#222222" stroke-width="0.9" fill="none" stroke-linejoin="round"/>
<line x1="293.5" y1="673.35" x2="302.91" y2="681.81" stroke="#222222" stroke-width="0.9"/>
<line x1="298.33" y1="693.98" x2="287.6" y2="697.75" stroke="#222222" stroke-width="0.9"/>
<line x1="277.06" y1="688.48" x2="280.64" y2="677.37" stroke="#222222" stroke-width="0.9"/>
<path d="M306.94 681.63L321.64 677.08L336.07 689.11L351.58 684.57L356.92 668.26" stroke="#222222" stroke-width="0.9" fill="none" stroke-linejoin="round"/>
<path d="M351.58 684.57L363.61 696.33" stroke="#222222" stroke-width="0.9" fill="none" stroke-linejoin="round"/>
<text transform="translate(365.48,703.54) scale(1.05,1)" font-size="10">NH</text>
<text transform="translate(380.78,706.14) scale(1.05,1)" font-size="6.5">3</text>
<text transform="translate(385.08,700.74) scale(1.05,1)" font-size="6.5">+</text>
<text transform="translate(312.8,658.4) scale(1.07,1)" font-size="14.2">MPPA</text>
<path d="M279.4 739.1L294.11 734.28L307.47 746.31L302.13 760.48L286.89 766.36L274.59 754.6Z" stroke="#222222" stroke-width="0.9" fill="none" stroke-linejoin="round"/>
<line x1="294.08" y1="738.04" x2="303.49" y2="746.51" stroke="#222222" stroke-width="0.9"/>
<line x1="299.12" y1="758.71" x2="288.4" y2="762.85" stroke="#222222" stroke-width="0.9"/>
<line x1="278.06" y1="752.97" x2="281.45" y2="742.06" stroke="#222222" stroke-width="0.9"/>
<path d="M307.47 746.31L324.31 741.77L327.52 726.27" stroke="#222222" stroke-width="0.9" fill="none" stroke-linejoin="round"/>
<path d="M324.31 741.77L335.54 753" stroke="#222222" stroke-width="0.9" fill="none" stroke-linejoin="round"/>
<text transform="translate(337.68,761.02) scale(1.05,1)" font-size="10">NH</text>
<text transform="translate(352.98,763.62) scale(1.05,1)" font-size="6.5">3</text>
<text transform="translate(357.28,758.22) scale(1.05,1)" font-size="6.5">+</text>
<text transform="translate(312.8,716.4) scale(1.07,1)" font-size="14.2">MBA</text>
<rect x="461.25" y="552" width="280" height="264.3" fill="none" stroke="#222222" stroke-width="1.3"/>
<line x1="486.75" y1="552" x2="486.75" y2="556.5" stroke="#222222" stroke-width="1.3"/>
<line x1="486.75" y1="816.3" x2="486.75" y2="811.8" stroke="#222222" stroke-width="1.3"/>
<line x1="563" y1="552" x2="563" y2="556.5" stroke="#222222" stroke-width="1.3"/>
<line x1="563" y1="816.3" x2="563" y2="811.8" stroke="#222222" stroke-width="1.3"/>
<line x1="639.25" y1="552" x2="639.25" y2="556.5" stroke="#222222" stroke-width="1.3"/>
<line x1="639.25" y1="816.3" x2="639.25" y2="811.8" stroke="#222222" stroke-width="1.3"/>
<line x1="715.5" y1="552" x2="715.5" y2="556.5" stroke="#222222" stroke-width="1.3"/>
<line x1="715.5" y1="816.3" x2="715.5" y2="811.8" stroke="#222222" stroke-width="1.3"/>
<text transform="translate(456.5,821.2) scale(1.04,1)" font-size="14.2" text-anchor="end">20</text>
<line x1="461.25" y1="745.6" x2="465.75" y2="745.6" stroke="#222222" stroke-width="1.3"/>
<text transform="translate(456.5,750.5) scale(1.04,1)" font-size="14.2" text-anchor="end">40</text>
<line x1="461.25" y1="674.9" x2="465.75" y2="674.9" stroke="#222222" stroke-width="1.3"/>
<text transform="translate(456.5,679.8) scale(1.04,1)" font-size="14.2" text-anchor="end">60</text>
<line x1="461.25" y1="604.2" x2="465.75" y2="604.2" stroke="#222222" stroke-width="1.3"/>
<text transform="translate(456.5,609.1) scale(1.04,1)" font-size="14.2" text-anchor="end">80</text>
<text transform="translate(484.45,545.2) scale(1.04,1)" font-size="14.2" text-anchor="middle">650</text>
<text transform="translate(560.7,545.2) scale(1.04,1)" font-size="14.2" text-anchor="middle">640</text>
<text transform="translate(636.95,545.2) scale(1.04,1)" font-size="14.2" text-anchor="middle">630</text>
<text transform="translate(713.2,545.2) scale(1.04,1)" font-size="14.2" text-anchor="middle">620</text>
<text transform="translate(486.75,833.8) scale(1.04,1)" font-size="14.2" text-anchor="middle">1.91</text>
<text transform="translate(563,833.8) scale(1.04,1)" font-size="14.2" text-anchor="middle">1.94</text>
<text transform="translate(639.25,833.8) scale(1.04,1)" font-size="14.2" text-anchor="middle">1.97</text>
<text transform="translate(715.5,833.8) scale(1.04,1)" font-size="14.2" text-anchor="middle">2.00</text>
<text transform="translate(600.3,522.5) scale(1.04,1)" font-size="14.2" text-anchor="middle">Wavelength (nm)</text>
<text transform="translate(598.8,857.2) scale(1.04,1)" font-size="14.2" text-anchor="middle">Bandgap (eV)</text>
<text transform="translate(421.8,684) rotate(-90) scale(1.04,1)" font-size="14.2" text-anchor="middle">PLQY (%)</text>
<path d="M486.75 661.5L563 675L639.25 712L715.5 750.2" stroke="#8a8a8a" stroke-width="1.15" fill="none"/>
<path d="M486.75 612L563 598L639.25 614.5L715.5 643.25" stroke="#EC5550" stroke-width="1.25" fill="none"/>
<path d="M486.75 651.7L495.75 661.5L486.75 671.3L477.75 661.5Z" fill="#fff"/>
<path d="M563 665.2L572 675L563 684.8L554 675Z" fill="#fff"/>
<path d="M639.25 702.2L648.25 712L639.25 721.8L630.25 712Z" fill="#fff"/>
<path d="M715.5 740.4L724.5 750.2L715.5 760L706.5 750.2Z" fill="#fff"/>
<circle cx="486.75" cy="612" r="7.9" fill="#fff"/>
<circle cx="563" cy="598" r="7.9" fill="#fff"/>
<circle cx="639.25" cy="614.5" r="7.9" fill="#fff"/>
<circle cx="715.5" cy="643.25" r="7.9" fill="#fff"/>
<line x1="486.75" y1="649.5" x2="486.75" y2="673.5" stroke="#8a8a8a" stroke-width="1.15"/>
<line x1="483.75" y1="649.5" x2="489.75" y2="649.5" stroke="#8a8a8a" stroke-width="1.15"/>
<line x1="483.75" y1="673.5" x2="489.75" y2="673.5" stroke="#8a8a8a" stroke-width="1.15"/>
<path d="M486.75 655L492.65 661.5L486.75 668L480.85 661.5Z" stroke="#8a8a8a" stroke-width="1.5" fill="#fff" stroke-linejoin="miter"/>
<line x1="563" y1="663" x2="563" y2="687" stroke="#8a8a8a" stroke-width="1.15"/>
<line x1="560" y1="663" x2="566" y2="663" stroke="#8a8a8a" stroke-width="1.15"/>
<line x1="560" y1="687" x2="566" y2="687" stroke="#8a8a8a" stroke-width="1.15"/>
<path d="M563 668.5L568.9 675L563 681.5L557.1 675Z" stroke="#8a8a8a" stroke-width="1.5" fill="#fff" stroke-linejoin="miter"/>
<line x1="639.25" y1="700" x2="639.25" y2="724" stroke="#8a8a8a" stroke-width="1.15"/>
<line x1="636.25" y1="700" x2="642.25" y2="700" stroke="#8a8a8a" stroke-width="1.15"/>
<line x1="636.25" y1="724" x2="642.25" y2="724" stroke="#8a8a8a" stroke-width="1.15"/>
<path d="M639.25 705.5L645.15 712L639.25 718.5L633.35 712Z" stroke="#8a8a8a" stroke-width="1.5" fill="#fff" stroke-linejoin="miter"/>
<line x1="715.5" y1="738.2" x2="715.5" y2="762.2" stroke="#8a8a8a" stroke-width="1.15"/>
<line x1="712.5" y1="738.2" x2="718.5" y2="738.2" stroke="#8a8a8a" stroke-width="1.15"/>
<line x1="712.5" y1="762.2" x2="718.5" y2="762.2" stroke="#8a8a8a" stroke-width="1.15"/>
<path d="M715.5 743.7L721.4 750.2L715.5 756.7L709.6 750.2Z" stroke="#8a8a8a" stroke-width="1.5" fill="#fff" stroke-linejoin="miter"/>
<line x1="486.75" y1="602.4" x2="486.75" y2="621.6" stroke="#EC5550" stroke-width="1.25"/>
<line x1="483.75" y1="602.4" x2="489.75" y2="602.4" stroke="#EC5550" stroke-width="1.25"/>
<line x1="483.75" y1="621.6" x2="489.75" y2="621.6" stroke="#EC5550" stroke-width="1.25"/>
<circle cx="486.75" cy="612" r="5.0" fill="#fff" stroke="#EC5550" stroke-width="1.55"/>
<line x1="563" y1="588.4" x2="563" y2="607.6" stroke="#EC5550" stroke-width="1.25"/>
<line x1="560" y1="588.4" x2="566" y2="588.4" stroke="#EC5550" stroke-width="1.25"/>
<line x1="560" y1="607.6" x2="566" y2="607.6" stroke="#EC5550" stroke-width="1.25"/>
<circle cx="563" cy="598" r="5.0" fill="#fff" stroke="#EC5550" stroke-width="1.55"/>
<line x1="639.25" y1="604.9" x2="639.25" y2="624.1" stroke="#EC5550" stroke-width="1.25"/>
<line x1="636.25" y1="604.9" x2="642.25" y2="604.9" stroke="#EC5550" stroke-width="1.25"/>
<line x1="636.25" y1="624.1" x2="642.25" y2="624.1" stroke="#EC5550" stroke-width="1.25"/>
<circle cx="639.25" cy="614.5" r="5.0" fill="#fff" stroke="#EC5550" stroke-width="1.55"/>
<line x1="715.5" y1="633.65" x2="715.5" y2="652.85" stroke="#EC5550" stroke-width="1.25"/>
<line x1="712.5" y1="633.65" x2="718.5" y2="633.65" stroke="#EC5550" stroke-width="1.25"/>
<line x1="712.5" y1="652.85" x2="718.5" y2="652.85" stroke="#EC5550" stroke-width="1.25"/>
<circle cx="715.5" cy="643.25" r="5.0" fill="#fff" stroke="#EC5550" stroke-width="1.55"/>
<line x1="481.25" y1="754.25" x2="516.75" y2="754.25" stroke="#8a8a8a" stroke-width="1.15"/>
<rect x="490.6" y="750" width="17.4" height="8" fill="#fff"/>
<path d="M499.25 747.75L505.15 754.25L499.25 760.75L493.35 754.25Z" stroke="#8a8a8a" stroke-width="1.5" fill="#fff" stroke-linejoin="miter"/>
<text transform="translate(521.8,759.3) scale(1.13,1)" font-size="14.2">M-MPPA</text>
<line x1="481.25" y1="773.75" x2="516.75" y2="773.75" stroke="#EC5550" stroke-width="1.25"/>
<circle cx="499.25" cy="773.75" r="7.9" fill="#fff"/>
<circle cx="499.25" cy="773.75" r="5.0" fill="#fff" stroke="#EC5550" stroke-width="1.55"/>
<text transform="translate(521.8,778.7) scale(1.13,1)" font-size="14.2">MM-MOPA</text>
<rect x="919.3" y="547.2" width="12.3" height="235.4" fill="#E7E5F1"/>
<path d="M792.4 588.2C795.83 589.27 804.77 592.43 813 594.6C821.23 596.77 833.18 599.38 841.8 601.2C850.42 603.02 857.53 604.45 864.7 605.5C871.87 606.55 880.02 607.27 884.8 607.5C889.58 607.73 890.53 607.82 893.4 606.9C896.27 605.98 899.13 604.87 902 602C904.87 599.13 907.72 595.1 910.6 589.7C913.48 584.3 916.67 574.97 919.3 569.6C921.93 564.23 924.5 559.9 926.4 557.5C928.3 555.1 929.27 555.33 930.7 555.2C932.13 555.07 933.08 554.45 935 556.7C936.92 558.95 939.57 563.45 942.2 568.7C944.83 573.95 947.93 582.55 950.8 588.2C953.67 593.85 956.53 599 959.4 602.6C962.27 606.2 964.65 608.13 968 609.8C971.35 611.47 974.23 611.98 979.5 612.6C984.77 613.22 991.47 613.17 999.6 613.5C1007.73 613.83 1017.07 614.32 1028.3 614.6C1039.53 614.88 1060.55 615.1 1067 615.2" stroke="#EF4B45" stroke-width="1.5" fill="none" stroke-linejoin="round"/>
<path d="M792.4 656C794.88 657.67 802.42 662.9 807.3 666C812.18 669.1 815.95 671.97 821.7 674.6C827.45 677.23 835.12 679.65 841.8 681.8C848.48 683.95 855.6 686.07 861.8 687.5C868 688.93 874.2 689.77 879 690.4C883.8 691.03 887.23 692.02 890.6 691.3C893.97 690.58 896.33 689.35 899.2 686.1C902.07 682.85 904.93 677.3 907.8 671.8C910.67 666.3 913.77 657.88 916.4 653.1C919.03 648.32 921.93 644.92 923.6 643.1C925.27 641.28 925.22 641.97 926.4 642.2C927.58 642.43 928.55 641.25 930.7 644.5C932.85 647.75 936.42 655.48 939.3 661.7C942.18 667.92 945.12 676.3 948 681.8C950.88 687.3 953.27 691.58 956.6 694.7C959.93 697.82 963.22 699.15 968 700.5C972.78 701.85 977.63 702.08 985.3 702.8C992.97 703.52 1004.43 704.33 1014 704.8C1023.57 705.27 1033.87 705.27 1042.7 705.6C1051.53 705.93 1062.95 706.6 1067 706.8" stroke="#7b7b7b" stroke-width="1.5" fill="none" stroke-linejoin="round"/>
<path d="M792.4 741.5C794.88 743.27 801.47 748.8 807.3 752.1C813.13 755.4 820.22 758.67 827.4 761.3C834.58 763.93 843.22 766.18 850.4 767.9C857.58 769.62 864.28 770.6 870.5 771.6C876.72 772.6 883.4 773.9 887.7 773.9C892 773.9 892.95 773.8 896.3 771.6C899.65 769.4 903.97 764.52 907.8 760.7C911.63 756.88 916.2 751.13 919.3 748.7C922.4 746.27 924.25 746.2 926.4 746.1C928.55 746 929.57 745.67 932.2 748.1C934.83 750.53 938.62 756.45 942.2 760.7C945.78 764.95 949.87 770.33 953.7 773.6C957.53 776.87 961.37 778.8 965.2 780.3C969.03 781.8 970.97 781.88 976.7 782.6C982.43 783.32 991 784.08 999.6 784.6C1008.2 785.12 1017.07 785.37 1028.3 785.7C1039.53 786.03 1060.55 786.45 1067 786.6" stroke="#8A1FA6" stroke-width="1.5" fill="none" stroke-linejoin="round"/>
<line x1="792.4" y1="532.2" x2="792.4" y2="815" stroke="#222222" stroke-width="1.3"/>
<line x1="791.75" y1="814.4" x2="1066.8" y2="814.4" stroke="#222222" stroke-width="1.3"/>
<text transform="translate(792.4,834.3) scale(1.04,1)" font-size="14.2" text-anchor="middle">408</text>
<line x1="838.03" y1="814.4" x2="838.03" y2="809.2" stroke="#222222" stroke-width="1.3"/>
<text transform="translate(838.03,834.3) scale(1.04,1)" font-size="14.2" text-anchor="middle">406</text>
<line x1="883.66" y1="814.4" x2="883.66" y2="809.2" stroke="#222222" stroke-width="1.3"/>
<text transform="translate(883.66,834.3) scale(1.04,1)" font-size="14.2" text-anchor="middle">404</text>
<line x1="929.29" y1="814.4" x2="929.29" y2="809.2" stroke="#222222" stroke-width="1.3"/>
<text transform="translate(929.29,834.3) scale(1.04,1)" font-size="14.2" text-anchor="middle">402</text>
<line x1="974.92" y1="814.4" x2="974.92" y2="809.2" stroke="#222222" stroke-width="1.3"/>
<text transform="translate(974.92,834.3) scale(1.04,1)" font-size="14.2" text-anchor="middle">400</text>
<line x1="1020.55" y1="814.4" x2="1020.55" y2="809.2" stroke="#222222" stroke-width="1.3"/>
<text transform="translate(1020.55,834.3) scale(1.04,1)" font-size="14.2" text-anchor="middle">398</text>
<line x1="1066.18" y1="814.4" x2="1066.18" y2="809.2" stroke="#222222" stroke-width="1.3"/>
<text transform="translate(1065.18,834.3) scale(1.04,1)" font-size="14.2" text-anchor="middle">396</text>
<line x1="792.4" y1="625.8" x2="794.6" y2="625.8" stroke="#222222" stroke-width="1"/>
<line x1="792.4" y1="720.6" x2="794.6" y2="720.6" stroke="#222222" stroke-width="1"/>
<text transform="translate(926,857.2) scale(1.04,1)" font-size="14.2" text-anchor="middle">Binding energy (eV)</text>
<text transform="translate(772,670) rotate(-90) scale(1.04,1)" font-size="14.2" text-anchor="middle">Intensity (a.u.)</text>
<text transform="translate(807.3,559) scale(1.04,1)" font-size="14.2">N 1</text>
<text transform="translate(829.6,559) scale(1.04,1)" font-size="14.2" font-style="italic">s</text>
<text transform="translate(986.9,604.9) scale(1.11,1)" font-size="14.2">MM-MOPA</text>
<text transform="translate(998.3,696.2) scale(1.09,1)" font-size="14.2">M-MPPA</text>
<text transform="translate(1011,777.4) scale(1.06,1)" font-size="14.2">MBA</text>
</svg></body></html>
